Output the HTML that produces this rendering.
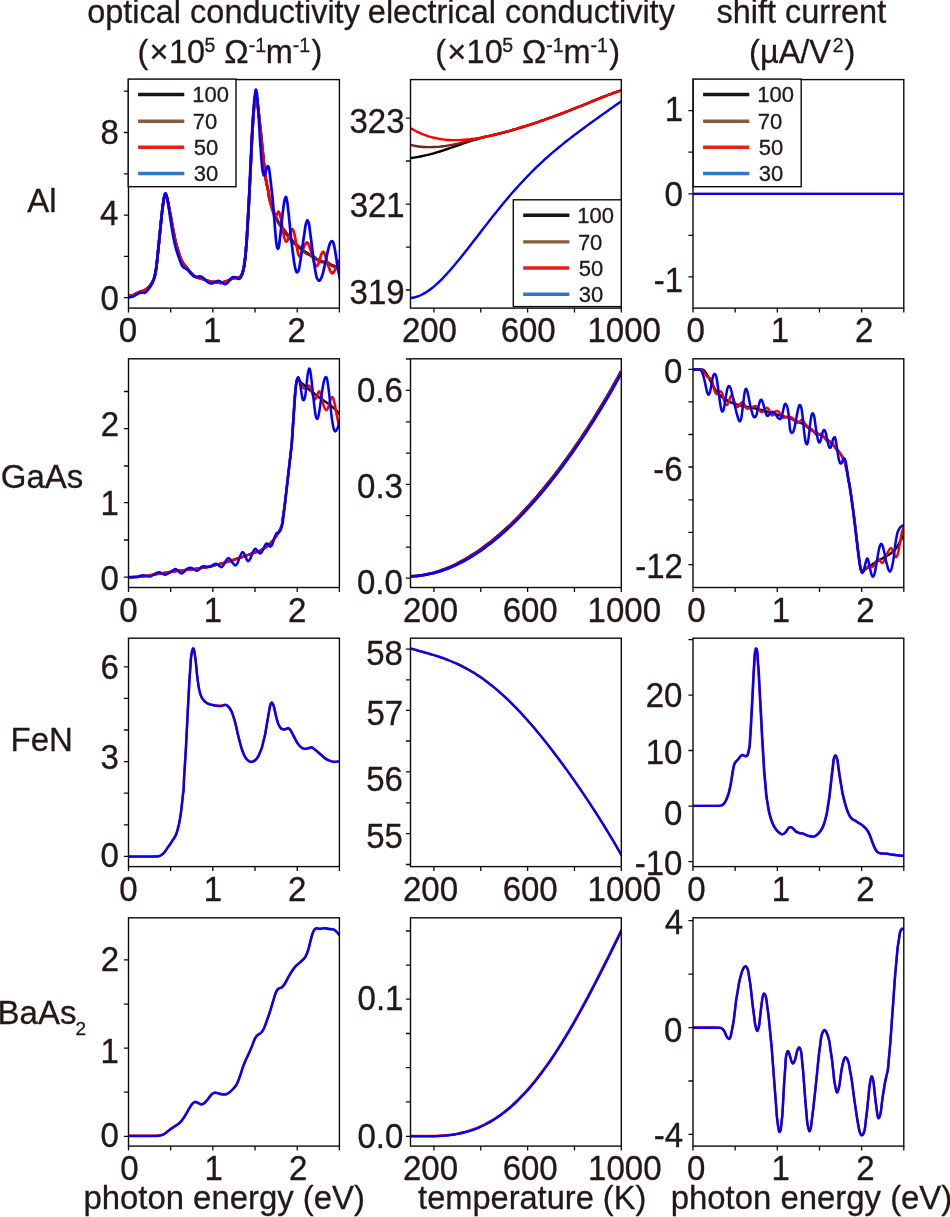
<!DOCTYPE html>
<html><head><meta charset="utf-8"><title>conductivity figure</title>
<style>html,body{margin:0;padding:0;background:#fff}body{width:950px;height:1217px;overflow:hidden}svg{display:block}text{font-family:"Liberation Sans",sans-serif;font-size:32.5px;fill:#231815;stroke:#231815;stroke-width:0.3px}</style>
</head><body>
<svg width="950" height="1217" viewBox="0 0 950 1217">
<rect width="950" height="1217" fill="#fff"/>
<clipPath id="c11"><rect x="128.5" y="79.6" width="210.9" height="228.5"/></clipPath>
<g clip-path="url(#c11)" fill="none" stroke-width="2.7" stroke-linejoin="round" stroke-linecap="butt">
<path d="M128.59 295.85C129.26 295.79 130.9 296.06 132.63 295.47C134.36 294.88 136.84 293.26 138.95 292.31C141.05 291.36 143.37 290.94 145.26 289.79C147.16 288.63 148.84 287.26 150.31 285.36C151.79 283.47 153.16 281.05 154.1 278.42C155.05 275.79 155.47 272.73 156 269.58C156.52 266.42 156.84 263.26 157.26 259.47C157.68 255.68 158.18 250.31 158.52 246.84C158.87 243.37 159.07 241.37 159.35 238.63C159.62 235.89 159.9 233.05 160.17 230.42C160.43 227.79 160.67 225.37 160.92 222.84C161.18 220.31 161.3 218.53 161.68 215.26C162.06 212 162.74 206.42 163.2 203.26C163.66 200.1 164.04 197.68 164.46 196.32C164.88 194.95 165.3 194.84 165.72 195.05C166.15 195.26 166.5 195.89 166.99 197.58C167.47 199.26 168.04 202.21 168.63 205.16C169.22 208.1 170 212.42 170.52 215.26C171.05 218.1 171.37 219.89 171.79 222.21C172.21 224.52 172.42 225.89 173.05 229.16C173.68 232.42 174.73 238.21 175.58 241.79C176.42 245.37 177.26 247.89 178.1 250.63C178.94 253.37 179.79 256.1 180.63 258.21C181.47 260.31 182.31 261.89 183.16 263.26C184 264.63 184.84 265.37 185.68 266.42C186.52 267.47 187.16 268.31 188.21 269.58C189.26 270.84 190.73 272.73 192 274C193.26 275.26 194.31 276.42 195.79 277.15C197.26 277.89 199.15 277.89 200.84 278.42C202.52 278.94 204.21 279.79 205.89 280.31C207.58 280.84 209.26 281.26 210.94 281.58C212.63 281.89 214.31 282 216 282.21C217.68 282.42 218.92 283.15 221.05 282.84C223.18 282.52 226.87 281.05 228.79 280.31C230.71 279.58 231.32 278.84 232.58 278.42C233.84 278 235.15 278 236.37 277.79C237.59 277.58 238.96 277.79 239.9 277.15C240.85 276.52 241.38 275.68 242.05 274C242.73 272.31 243.38 270.1 243.95 267.05C244.51 264 245.1 258.84 245.46 255.68C245.82 252.52 245.88 250.63 246.09 248.1C246.3 245.58 246.54 243.26 246.73 240.52C246.91 237.79 247.06 234.63 247.23 231.68C247.4 228.74 247.57 225.79 247.74 222.84C247.9 219.89 248.07 216.95 248.24 214C248.41 211.05 248.6 207.84 248.75 205.16C248.89 202.47 249 200.31 249.13 197.88C249.25 195.45 249.38 193.03 249.5 190.6C249.63 188.18 249.76 185.75 249.88 183.33C250.01 180.9 250.13 178.84 250.26 176.05C250.4 173.26 250.56 169.73 250.7 166.58C250.85 163.42 251.02 159.87 251.15 157.1C251.28 154.33 251.37 152.33 251.48 149.94C251.6 147.56 251.71 145.17 251.82 142.79C251.93 140.4 252.01 138.4 252.16 135.63C252.31 132.86 252.54 129.31 252.73 126.16C252.91 123 253.09 119.52 253.29 116.68C253.49 113.84 253.71 111.63 253.93 109.1C254.14 106.58 254.3 103.63 254.56 101.53C254.81 99.42 255.17 97.42 255.44 96.47C255.71 95.53 255.93 95.42 256.2 95.84C256.47 96.26 256.77 97 257.08 99C257.4 101 257.76 104.89 258.09 107.84C258.43 110.79 258.78 113.74 259.1 116.68C259.43 119.63 259.74 122.58 260.05 125.52C260.37 128.47 260.68 131.31 261 134.37C261.31 137.42 261.63 140.68 261.95 143.84C262.26 147 262.58 150.15 262.89 153.31C263.21 156.47 263.52 159.63 263.84 162.79C264.16 165.94 264.31 168.79 264.79 172.26C265.26 175.73 266.05 180.26 266.68 183.63C267.31 187 268.16 190.14 268.58 192.47C269 194.79 268.47 194.62 269.21 197.58C269.95 200.54 271.52 206.21 273 210.21C274.47 214.21 276.37 218.42 278.05 221.58C279.73 224.74 281.42 226.74 283.1 229.16C284.79 231.58 286.47 234 288.16 236.1C289.84 238.21 291.52 240 293.21 241.79C294.89 243.58 296.58 245.37 298.26 246.84C299.94 248.31 301.63 249.47 303.31 250.63C305 251.79 306.68 252.63 308.36 253.79C310.05 254.94 311.73 256.52 313.42 257.58C315.1 258.63 316.79 259.37 318.47 260.1C320.15 260.84 321.84 261.37 323.52 262C325.21 262.63 326.89 263.26 328.57 263.89C330.26 264.52 331.84 264.94 333.63 265.79C335.42 266.63 338.15 268.31 339.31 268.94C340.47 269.58 340.36 269.47 340.57 269.58" stroke="#000000"/>
<path d="M128.59 295.85C129.26 295.79 130.9 296.06 132.63 295.47C134.36 294.88 136.84 293.26 138.95 292.31C141.05 291.36 143.37 290.94 145.26 289.79C147.16 288.63 148.84 287.26 150.31 285.36C151.79 283.47 153.16 281.05 154.1 278.42C155.05 275.79 155.47 272.73 156 269.58C156.52 266.42 156.84 263.26 157.26 259.47C157.68 255.68 158.18 250.31 158.52 246.84C158.87 243.37 159.07 241.37 159.35 238.63C159.62 235.89 159.9 233.05 160.17 230.42C160.43 227.79 160.67 225.37 160.92 222.84C161.18 220.31 161.3 218.53 161.68 215.26C162.06 212 162.74 206.42 163.2 203.26C163.66 200.1 164.04 197.68 164.46 196.32C164.88 194.95 165.3 194.84 165.72 195.05C166.15 195.26 166.5 195.89 166.99 197.58C167.47 199.26 168.04 202.21 168.63 205.16C169.22 208.1 170 212.42 170.52 215.26C171.05 218.1 171.37 219.89 171.79 222.21C172.21 224.52 172.42 225.89 173.05 229.16C173.68 232.42 174.73 238.21 175.58 241.79C176.42 245.37 177.26 247.89 178.1 250.63C178.94 253.37 179.79 256.1 180.63 258.21C181.47 260.31 182.31 261.89 183.16 263.26C184 264.63 184.84 265.37 185.68 266.42C186.52 267.47 187.16 268.31 188.21 269.58C189.26 270.84 190.73 272.73 192 274C193.26 275.26 194.31 276.42 195.79 277.15C197.26 277.89 199.15 277.89 200.84 278.42C202.52 278.94 204.21 279.79 205.89 280.31C207.58 280.84 209.26 281.26 210.94 281.58C212.63 281.89 214.31 282 216 282.21C217.68 282.42 218.92 283.15 221.05 282.84C223.18 282.52 226.87 281.05 228.79 280.31C230.71 279.58 231.32 278.84 232.58 278.42C233.84 278 235.15 278 236.37 277.79C237.59 277.58 238.96 277.79 239.9 277.15C240.85 276.52 241.38 275.68 242.05 274C242.73 272.31 243.38 270.1 243.95 267.05C244.51 264 245.1 258.84 245.46 255.68C245.82 252.52 245.88 250.63 246.09 248.1C246.3 245.58 246.54 243.26 246.73 240.52C246.91 237.79 247.06 234.63 247.23 231.68C247.4 228.74 247.57 225.79 247.74 222.84C247.9 219.89 248.07 216.95 248.24 214C248.41 211.05 248.6 207.84 248.75 205.16C248.89 202.47 249 200.31 249.13 197.88C249.25 195.45 249.38 193.03 249.5 190.6C249.63 188.18 249.76 185.75 249.88 183.33C250.01 180.9 250.13 178.84 250.26 176.05C250.4 173.26 250.56 169.73 250.7 166.58C250.85 163.42 251.02 159.87 251.15 157.1C251.28 154.33 251.37 152.33 251.48 149.94C251.6 147.56 251.71 145.17 251.82 142.79C251.93 140.4 252.01 138.4 252.16 135.63C252.31 132.86 252.54 129.31 252.73 126.16C252.91 123 253.09 119.52 253.29 116.68C253.49 113.84 253.71 111.63 253.93 109.1C254.14 106.58 254.3 103.63 254.56 101.53C254.81 99.42 255.17 97.42 255.44 96.47C255.71 95.53 255.93 95.42 256.2 95.84C256.47 96.26 256.77 97 257.08 99C257.4 101 257.76 104.89 258.09 107.84C258.43 110.79 258.78 113.74 259.1 116.68C259.43 119.63 259.74 122.58 260.05 125.52C260.37 128.47 260.68 131.31 261 134.37C261.31 137.42 261.63 140.68 261.95 143.84C262.26 147 262.58 150.15 262.89 153.31C263.21 156.47 263.52 159.63 263.84 162.79C264.16 165.94 264.31 168.79 264.79 172.26C265.26 175.73 266.05 180.26 266.68 183.63C267.31 187 268.16 190.14 268.58 192.47C269 194.79 268.79 195.67 269.21 197.58C269.63 199.48 270.47 201.81 271.1 203.89C271.73 205.98 272.4 208.44 273 210.11C273.59 211.79 274.12 212.62 274.68 213.95C275.24 215.28 275.8 216.71 276.37 218.1C276.93 219.5 277.49 221.18 278.05 222.32C278.61 223.46 279.17 224.16 279.73 224.93C280.3 225.69 280.86 226.26 281.42 226.89C281.98 227.51 282.54 228.08 283.1 228.68C283.66 229.29 284.23 229.82 284.79 230.52C285.35 231.22 285.91 232.01 286.47 232.88C287.03 233.75 287.59 234.82 288.16 235.73C288.72 236.65 289.28 237.52 289.84 238.37C290.4 239.21 290.96 240.07 291.52 240.8C292.08 241.53 292.65 242.21 293.21 242.74C293.77 243.26 294.33 243.59 294.89 243.95C295.45 244.31 296.01 244.56 296.58 244.9C297.14 245.24 297.7 245.62 298.26 245.99C298.82 246.36 299.38 246.66 299.94 247.12C300.51 247.59 301.07 248.18 301.63 248.79C302.19 249.4 302.75 250.16 303.31 250.77C303.87 251.38 304.44 251.97 305 252.46C305.56 252.96 306.12 253.4 306.68 253.73C307.24 254.06 307.8 254.24 308.36 254.46C308.93 254.67 309.49 254.84 310.05 255.03C310.61 255.22 311.17 255.35 311.73 255.61C312.29 255.87 312.86 256.23 313.42 256.58C313.98 256.92 314.54 257.23 315.1 257.67C315.66 258.1 316.22 258.66 316.79 259.16C317.35 259.67 317.91 260.29 318.47 260.72C319.03 261.14 319.59 261.48 320.15 261.72C320.72 261.97 321.28 262.11 321.84 262.19C322.4 262.27 322.96 262.22 323.52 262.21C324.08 262.2 324.64 262.1 325.21 262.11C325.77 262.13 326.33 262.15 326.89 262.3C327.45 262.45 328.01 262.69 328.57 263.01C329.14 263.32 329.7 263.77 330.26 264.2C330.82 264.62 331.38 265.16 331.94 265.57C332.5 265.97 333.03 266.32 333.63 266.64C334.22 266.95 334.89 267.22 335.52 267.45C336.15 267.68 336.78 267.78 337.42 268.01C338.05 268.24 338.78 268.57 339.31 268.83C339.84 269.09 340.36 269.45 340.57 269.58" stroke="#7a2222"/>
<path d="M128.59 295.85C129.26 295.79 130.9 296.06 132.63 295.47C134.36 294.88 136.84 293.26 138.95 292.31C141.05 291.36 143.37 290.94 145.26 289.79C147.16 288.63 148.84 287.26 150.31 285.36C151.79 283.47 153.16 281.05 154.1 278.42C155.05 275.79 155.47 272.73 156 269.58C156.52 266.42 156.84 263.26 157.26 259.47C157.68 255.68 158.18 250.31 158.52 246.84C158.87 243.37 159.07 241.37 159.35 238.63C159.62 235.89 159.9 233.05 160.17 230.42C160.43 227.79 160.67 225.37 160.92 222.84C161.18 220.31 161.3 218.53 161.68 215.26C162.06 212 162.74 206.42 163.2 203.26C163.66 200.1 164.04 197.68 164.46 196.32C164.88 194.95 165.3 194.84 165.72 195.05C166.15 195.26 166.5 195.89 166.99 197.58C167.47 199.26 168.04 202.21 168.63 205.16C169.22 208.1 170 212.42 170.52 215.26C171.05 218.1 171.37 219.89 171.79 222.21C172.21 224.52 172.42 225.89 173.05 229.16C173.68 232.42 174.73 238.21 175.58 241.79C176.42 245.37 177.26 247.89 178.1 250.63C178.94 253.37 179.79 256.1 180.63 258.21C181.47 260.31 182.31 261.89 183.16 263.26C184 264.63 184.84 265.37 185.68 266.42C186.52 267.47 187.16 268.31 188.21 269.58C189.26 270.84 190.73 272.73 192 274C193.26 275.26 194.31 276.42 195.79 277.15C197.26 277.89 199.15 277.89 200.84 278.42C202.52 278.94 204.21 279.79 205.89 280.31C207.58 280.84 209.26 281.26 210.94 281.58C212.63 281.89 214.31 282 216 282.21C217.68 282.42 218.92 283.15 221.05 282.84C223.18 282.52 226.87 281.05 228.79 280.31C230.71 279.58 231.32 278.84 232.58 278.42C233.84 278 235.15 278 236.37 277.79C237.59 277.58 238.96 277.79 239.9 277.15C240.85 276.52 241.38 275.68 242.05 274C242.73 272.31 243.38 270.1 243.95 267.05C244.51 264 245.1 258.84 245.46 255.68C245.82 252.52 245.88 250.63 246.09 248.1C246.3 245.58 246.54 243.26 246.73 240.52C246.91 237.79 247.06 234.63 247.23 231.68C247.4 228.74 247.57 225.79 247.74 222.84C247.9 219.89 248.07 216.95 248.24 214C248.41 211.05 248.6 207.84 248.75 205.16C248.89 202.47 249 200.31 249.13 197.88C249.25 195.45 249.38 193.03 249.5 190.6C249.63 188.18 249.76 185.75 249.88 183.33C250.01 180.9 250.13 178.84 250.26 176.05C250.4 173.26 250.56 169.73 250.7 166.58C250.85 163.42 251.02 159.87 251.15 157.1C251.28 154.33 251.37 152.33 251.48 149.94C251.6 147.56 251.71 145.17 251.82 142.79C251.93 140.4 252.01 138.4 252.16 135.63C252.31 132.86 252.54 129.31 252.73 126.16C252.91 123 253.09 119.52 253.29 116.68C253.49 113.84 253.71 111.63 253.93 109.1C254.14 106.58 254.3 103.63 254.56 101.53C254.81 99.42 255.17 97.42 255.44 96.47C255.71 95.53 255.93 95.42 256.2 95.84C256.47 96.26 256.77 97 257.08 99C257.4 101 257.76 104.89 258.09 107.84C258.43 110.79 258.78 113.74 259.1 116.68C259.43 119.63 259.74 122.58 260.05 125.52C260.37 128.47 260.68 131.31 261 134.37C261.31 137.42 261.63 140.68 261.95 143.84C262.26 147 262.58 150.15 262.89 153.31C263.21 156.47 263.52 159.63 263.84 162.79C264.16 165.94 264.31 168.79 264.79 172.26C265.26 175.73 266.05 180.26 266.68 183.63C267.31 187 268.16 190.14 268.58 192.47C269 194.79 268.58 194.62 269.21 197.58C269.84 200.54 271.42 207.05 272.37 210.21C273.31 213.37 274.16 215.79 274.89 216.53C275.63 217.26 276.16 215.43 276.79 214.63C277.42 213.83 278.05 211.3 278.68 211.73C279.31 212.15 279.95 214.46 280.58 217.16C281.21 219.85 281.84 224.42 282.47 227.89C283.1 231.37 283.73 235.68 284.37 238C285 240.31 285.63 241.58 286.26 241.79C286.89 242 287.46 240.84 288.16 239.26C288.85 237.68 289.69 234 290.43 232.31C291.17 230.63 291.9 228.84 292.58 229.16C293.25 229.47 293.84 231.68 294.47 234.21C295.1 236.73 295.78 241.16 296.37 244.31C296.95 247.47 297.48 251.16 298.01 253.16C298.53 255.16 298.95 256.21 299.52 256.31C300.09 256.42 300.68 255.37 301.42 253.79C302.15 252.21 303 248.73 303.94 246.84C304.89 244.95 306.15 242.42 307.1 242.42C308.05 242.42 308.79 244.63 309.63 246.84C310.47 249.05 311.31 252.84 312.15 255.68C313 258.52 313.94 262.1 314.68 263.89C315.42 265.68 315.84 266.73 316.58 266.42C317.31 266.1 318.32 264 319.1 262C319.88 260 320.55 256.1 321.25 254.42C321.94 252.73 322.57 251.68 323.27 251.89C323.96 252.1 324.64 253.58 325.42 255.68C326.2 257.79 327.1 261.89 327.94 264.52C328.79 267.15 329.73 270 330.47 271.47C331.21 272.94 331.63 273.58 332.36 273.36C333.1 273.15 334.05 271.68 334.89 270.21C335.73 268.73 336.68 266.1 337.42 264.52C338.15 262.94 338.78 261.68 339.31 260.73C339.84 259.79 340.36 259.15 340.57 258.84" stroke="#ff0000"/>
<path d="M128.59 297.36C129.26 297.26 131.33 297.2 132.63 296.73C133.94 296.27 135.26 295.22 136.42 294.59C137.58 293.95 138.53 293.28 139.58 292.94C140.63 292.61 141.79 292.63 142.74 292.56C143.68 292.5 144.31 293.13 145.26 292.56C146.21 292 147.37 290.46 148.42 289.15C149.47 287.85 150.63 286.52 151.58 284.73C152.52 282.94 153.37 280.94 154.1 278.42C154.84 275.89 155.47 272.73 156 269.58C156.52 266.42 156.84 263.26 157.26 259.47C157.68 255.68 158.18 250.31 158.52 246.84C158.87 243.37 159.07 241.37 159.35 238.63C159.62 235.89 159.9 233.05 160.17 230.42C160.43 227.79 160.67 225.37 160.92 222.84C161.18 220.31 161.3 218.63 161.68 215.26C162.06 211.89 162.74 206 163.2 202.63C163.66 199.26 164.08 196.63 164.46 195.05C164.84 193.47 165.13 193.16 165.47 193.16C165.81 193.16 166.06 193.47 166.48 195.05C166.9 196.63 167.43 199.26 168 202.63C168.57 206 169.26 211.05 169.89 215.26C170.52 219.47 171.09 223.68 171.79 227.89C172.48 232.1 173.32 236.95 174.06 240.52C174.8 244.1 175.43 246.63 176.21 249.37C176.99 252.1 177.89 254.52 178.73 256.94C179.58 259.37 180.52 262.21 181.26 263.89C182 265.58 182.42 266.27 183.16 267.05C183.89 267.83 184.84 268.04 185.68 268.57C186.52 269.09 187.37 269.41 188.21 270.21C189.05 271.01 189.89 272.42 190.73 273.36C191.58 274.31 192.42 275.3 193.26 275.89C194.1 276.48 194.94 276.8 195.79 276.9C196.63 277.01 197.47 276.59 198.31 276.52C199.15 276.46 200 276.25 200.84 276.52C201.68 276.8 202.31 277.32 203.36 278.16C204.42 279.01 205.89 280.69 207.15 281.58C208.42 282.46 209.89 283.26 210.94 283.47C212 283.68 212.52 283.22 213.47 282.84C214.42 282.46 215.57 281.47 216.63 281.2C217.68 280.92 218.73 280.86 219.79 281.2C220.84 281.53 222.07 282.73 222.94 283.22C223.81 283.7 224.24 284.16 225 284.1C225.76 284.04 226.68 283.58 227.53 282.84C228.37 282.1 229.21 280.63 230.05 279.68C230.89 278.73 231.74 277.53 232.58 277.15C233.42 276.78 234.26 277.15 235.1 277.41C235.95 277.66 236.83 278.5 237.63 278.67C238.43 278.84 239.17 279.09 239.9 278.42C240.64 277.74 241.38 276.52 242.05 274.63C242.73 272.73 243.38 270.21 243.95 267.05C244.51 263.89 245.1 258.84 245.46 255.68C245.82 252.52 245.88 250.63 246.09 248.1C246.3 245.58 246.54 243.26 246.73 240.52C246.91 237.79 247.06 234.63 247.23 231.68C247.4 228.74 247.57 225.79 247.74 222.84C247.9 219.89 248.07 216.95 248.24 214C248.41 211.05 248.61 207.84 248.75 205.16C248.88 202.47 248.96 200.31 249.06 197.88C249.17 195.45 249.27 193.03 249.38 190.6C249.48 188.18 249.59 185.75 249.69 183.33C249.8 180.9 249.88 178.84 250.01 176.05C250.14 173.26 250.3 169.73 250.45 166.58C250.6 163.42 250.76 159.87 250.89 157.1C251.02 154.33 251.12 152.33 251.23 149.94C251.34 147.56 251.46 145.17 251.57 142.79C251.68 140.4 251.75 138.4 251.9 135.63C252.06 132.86 252.28 129.31 252.47 126.16C252.66 123 252.84 119.63 253.04 116.68C253.24 113.74 253.46 111.21 253.67 108.47C253.88 105.74 254.03 103 254.3 100.26C254.58 97.53 255.04 93.84 255.31 92.05C255.59 90.26 255.69 89.42 255.95 89.53C256.2 89.63 256.51 90.26 256.83 92.68C257.15 95.1 257.59 100.89 257.84 104.05C258.09 107.21 258.18 109.1 258.35 111.63C258.51 114.16 258.7 116.75 258.85 119.21C259.01 121.66 259.13 123.98 259.27 126.37C259.41 128.75 259.55 131.14 259.69 133.52C259.83 135.91 259.94 138.01 260.11 140.68C260.29 143.35 260.54 146.58 260.75 149.52C260.96 152.47 261.06 154.79 261.38 158.36C261.69 161.94 262.22 168.15 262.64 171C263.06 173.84 263.48 175 263.9 175.42C264.32 175.84 264.75 174.68 265.17 173.52C265.59 172.36 266.01 169.69 266.43 168.47C266.85 167.25 267.27 166.2 267.69 166.2C268.11 166.2 268.54 166.62 268.96 168.47C269.38 170.32 269.8 173.94 270.22 177.31C270.64 180.68 271.06 184.88 271.48 188.68C271.9 192.48 272.43 196.94 272.75 200.1C273.06 203.27 273.17 205.16 273.38 207.68C273.59 210.21 273.8 212.63 274.01 215.26C274.22 217.89 274.43 220.74 274.64 223.47C274.85 226.21 274.96 228.21 275.27 231.68C275.59 235.16 276.11 241.47 276.53 244.31C276.96 247.16 277.38 248.52 277.8 248.73C278.22 248.94 278.6 248.21 279.06 245.58C279.52 242.95 280.17 236.52 280.58 232.95C280.99 229.37 281.21 227.05 281.52 224.1C281.84 221.16 282.04 218.84 282.47 215.26C282.9 211.68 283.59 205.68 284.11 202.63C284.64 199.58 285.12 197.16 285.63 196.95C286.13 196.74 286.62 198.32 287.14 201.37C287.67 204.42 288.36 211.37 288.79 215.26C289.22 219.16 289.42 221.58 289.73 224.74C290.05 227.89 290.37 231.26 290.68 234.21C291 237.16 291.31 239.68 291.63 242.42C291.94 245.16 292.26 248.1 292.58 250.63C292.89 253.16 293.21 255.26 293.52 257.58C293.84 259.89 294.06 262.31 294.47 264.52C294.88 266.73 295.52 269.53 295.99 270.84C296.45 272.14 296.77 272.56 297.25 272.35C297.73 272.14 298.3 271.93 298.89 269.58C299.48 267.22 300.26 261.58 300.79 258.21C301.31 254.84 301.63 252.31 302.05 249.37C302.47 246.42 302.91 243.26 303.31 240.52C303.71 237.79 304.07 235.47 304.45 232.95C304.83 230.42 305.1 227.47 305.59 225.37C306.07 223.26 306.79 220.53 307.35 220.31C307.92 220.1 308.56 222.31 309 224.1C309.43 225.89 309.63 228.74 309.94 231.05C310.26 233.37 310.58 235.58 310.89 238C311.21 240.42 311.52 243.05 311.84 245.58C312.15 248.1 312.47 250.73 312.79 253.16C313.1 255.58 313.42 257.79 313.73 260.1C314.05 262.42 314.21 264.21 314.68 267.05C315.15 269.89 315.94 274.94 316.58 277.15C317.21 279.36 317.84 279.89 318.47 280.31C319.1 280.73 319.63 280.84 320.36 279.68C321.1 278.52 322.05 276.31 322.89 273.36C323.73 270.42 324.57 265.79 325.42 262C326.26 258.21 327.21 253.68 327.94 250.63C328.68 247.58 329.21 245.26 329.84 243.68C330.47 242.1 331.1 241.16 331.73 241.16C332.36 241.16 333 241.68 333.63 243.68C334.26 245.68 334.89 249.47 335.52 253.16C336.15 256.84 336.78 262 337.42 265.79C338.05 269.58 338.78 273.15 339.31 275.89C339.84 278.63 340.36 281.15 340.57 282.21" stroke="#0000ff"/>
</g>
<g stroke="#0c0a0a" stroke-width="1.3" fill="none">
<path d="M123.9 297.7H128.5M123.9 215.1H128.5M123.9 132.5H128.5M123.9 256.4H128.5M123.9 173.8H128.5M123.9 91.2H128.5M128.5 308.1V312.5M212.86 308.1V312.5M297.22 308.1V312.5M170.68 308.1V312.5M255.04 308.1V312.5M339.4 308.1V312.5"/>
<rect x="128.5" y="79.6" width="210.9" height="228.5" stroke-width="1.4"/>
</g>
<rect x="128.2" y="79.1" width="107.8" height="107.6" fill="#fff" stroke="#0c0a0a" stroke-width="1.4"/>
<path d="M138.1 94.5H184.3" stroke="#1a1311" stroke-width="3.4" fill="none"/>
<text transform="translate(192.23 102.3) scale(1 1.04)" style="font-size:22px">100</text>
<path d="M138.1 121.2H184.3" stroke="#8a5a3a" stroke-width="3.4" fill="none"/>
<text transform="translate(192.78 129) scale(1 1.04)" style="font-size:22px">70</text>
<path d="M138.1 147.3H184.3" stroke="#e0221a" stroke-width="3.4" fill="none"/>
<text transform="translate(193.72 155.1) scale(1 1.04)" style="font-size:22px">50</text>
<path d="M138.1 173.5H184.3" stroke="#2f76c3" stroke-width="3.4" fill="none"/>
<text transform="translate(193.76 181.3) scale(1 1.04)" style="font-size:22px">30</text>
<clipPath id="c12"><rect x="410.5" y="79.6" width="210.8" height="228.5"/></clipPath>
<g clip-path="url(#c12)" fill="none" stroke-width="2.4" stroke-linejoin="round" stroke-linecap="butt">
<path d="M409.5 158.01C410.01 157.97 411.52 157.83 412.54 157.72C413.55 157.61 414.56 157.47 415.57 157.33C416.58 157.18 417.6 157.02 418.61 156.85C419.62 156.67 420.63 156.48 421.64 156.28C422.65 156.08 423.67 155.86 424.68 155.64C425.69 155.41 426.7 155.17 427.71 154.92C428.73 154.67 429.74 154.41 430.75 154.14C431.76 153.87 432.77 153.59 433.79 153.3C434.8 153.01 435.81 152.72 436.82 152.41C437.83 152.11 438.85 151.79 439.86 151.48C440.87 151.16 441.88 150.83 442.89 150.5C443.9 150.17 444.92 149.84 445.93 149.5C446.94 149.16 447.95 148.82 448.96 148.47C449.98 148.12 450.99 147.77 452 147.42C453.01 147.07 454.02 146.72 455.04 146.37C456.05 146.01 457.06 145.66 458.07 145.31C459.08 144.95 460.1 144.6 461.11 144.25C462.12 143.9 463.13 143.55 464.14 143.2C465.15 142.85 466.17 142.51 467.18 142.17C468.19 141.83 469.2 141.49 470.21 141.16C471.23 140.83 472.24 140.51 473.25 140.19C474.26 139.87 475.27 139.55 476.29 139.25C477.3 138.95 478.31 138.65 479.32 138.36C480.33 138.08 481.35 137.8 482.36 137.53C483.37 137.27 484.38 137.01 485.39 136.78C486.4 136.54 487.42 136.34 488.43 136.12C489.44 135.9 490.45 135.68 491.46 135.45C492.48 135.23 493.49 134.99 494.5 134.75C495.51 134.52 496.52 134.27 497.54 134.02C498.55 133.77 499.56 133.52 500.57 133.26C501.58 133 502.6 132.74 503.61 132.47C504.62 132.2 505.63 131.93 506.64 131.65C507.65 131.38 508.67 131.1 509.68 130.81C510.69 130.53 511.7 130.24 512.71 129.95C513.73 129.66 514.74 129.37 515.75 129.07C516.76 128.77 517.77 128.47 518.79 128.16C519.8 127.86 520.81 127.55 521.82 127.24C522.83 126.93 523.85 126.62 524.86 126.3C525.87 125.98 526.88 125.66 527.89 125.34C528.9 125.02 529.92 124.69 530.93 124.36C531.94 124.03 532.95 123.7 533.96 123.37C534.98 123.03 535.99 122.7 537 122.36C538.01 122.02 539.02 121.67 540.04 121.33C541.05 120.98 542.06 120.64 543.07 120.28C544.08 119.93 545.1 119.58 546.11 119.22C547.12 118.87 548.13 118.51 549.14 118.14C550.15 117.78 551.17 117.42 552.18 117.05C553.19 116.68 554.2 116.31 555.21 115.94C556.23 115.57 557.24 115.19 558.25 114.81C559.26 114.43 560.27 114.05 561.29 113.67C562.3 113.28 563.31 112.9 564.32 112.51C565.33 112.12 566.35 111.73 567.36 111.34C568.37 110.94 569.38 110.55 570.39 110.15C571.4 109.75 572.42 109.35 573.43 108.95C574.44 108.54 575.45 108.14 576.46 107.73C577.48 107.33 578.49 106.92 579.5 106.51C580.51 106.1 581.52 105.69 582.54 105.28C583.55 104.86 584.56 104.45 585.57 104.04C586.58 103.62 587.6 103.21 588.61 102.8C589.62 102.38 590.63 101.97 591.64 101.55C592.65 101.14 593.67 100.73 594.68 100.32C595.69 99.91 596.7 99.49 597.71 99.09C598.73 98.68 599.74 98.27 600.75 97.87C601.76 97.47 602.77 97.07 603.79 96.67C604.8 96.28 605.81 95.88 606.82 95.5C607.83 95.11 608.85 94.73 609.86 94.36C610.87 93.99 611.88 93.62 612.89 93.26C613.9 92.9 614.92 92.55 615.93 92.21C616.94 91.87 617.95 91.53 618.96 91.21C619.98 90.9 621.49 90.45 622 90.29" stroke="#000000"/>
<path d="M409.5 144.71C410.01 144.83 411.52 145.21 412.54 145.43C413.55 145.65 414.56 145.84 415.57 146.01C416.58 146.19 417.6 146.34 418.61 146.47C419.62 146.61 420.63 146.72 421.64 146.81C422.65 146.9 423.67 146.98 424.68 147.03C425.69 147.09 426.7 147.12 427.71 147.14C428.73 147.16 429.74 147.17 430.75 147.15C431.76 147.14 432.77 147.11 433.79 147.07C434.8 147.02 435.81 146.96 436.82 146.89C437.83 146.82 438.85 146.73 439.86 146.63C440.87 146.53 441.88 146.41 442.89 146.29C443.9 146.16 444.92 146.03 445.93 145.88C446.94 145.73 447.95 145.57 448.96 145.4C449.98 145.24 450.99 145.06 452 144.87C453.01 144.68 454.02 144.49 455.04 144.29C456.05 144.08 457.06 143.87 458.07 143.65C459.08 143.44 460.1 143.21 461.11 142.98C462.12 142.75 463.13 142.52 464.14 142.28C465.15 142.04 466.17 141.79 467.18 141.54C468.19 141.3 469.2 141.04 470.21 140.79C471.23 140.54 472.24 140.28 473.25 140.02C474.26 139.76 475.27 139.5 476.29 139.24C477.3 138.98 478.31 138.72 479.32 138.46C480.33 138.19 481.35 137.93 482.36 137.67C483.37 137.42 484.38 137.16 485.39 136.91C486.4 136.65 487.42 136.4 488.43 136.16C489.44 135.92 490.45 135.69 491.46 135.45C492.48 135.22 493.49 134.99 494.5 134.75C495.51 134.52 496.52 134.27 497.54 134.02C498.55 133.77 499.56 133.52 500.57 133.26C501.58 133 502.6 132.74 503.61 132.47C504.62 132.2 505.63 131.93 506.64 131.65C507.65 131.38 508.67 131.1 509.68 130.81C510.69 130.53 511.7 130.24 512.71 129.95C513.73 129.66 514.74 129.37 515.75 129.07C516.76 128.77 517.77 128.47 518.79 128.16C519.8 127.86 520.81 127.55 521.82 127.24C522.83 126.93 523.85 126.62 524.86 126.3C525.87 125.98 526.88 125.66 527.89 125.34C528.9 125.02 529.92 124.69 530.93 124.36C531.94 124.03 532.95 123.7 533.96 123.37C534.98 123.03 535.99 122.7 537 122.36C538.01 122.02 539.02 121.67 540.04 121.33C541.05 120.98 542.06 120.64 543.07 120.28C544.08 119.93 545.1 119.58 546.11 119.22C547.12 118.87 548.13 118.51 549.14 118.14C550.15 117.78 551.17 117.42 552.18 117.05C553.19 116.68 554.2 116.31 555.21 115.94C556.23 115.57 557.24 115.19 558.25 114.81C559.26 114.43 560.27 114.05 561.29 113.67C562.3 113.28 563.31 112.9 564.32 112.51C565.33 112.12 566.35 111.73 567.36 111.34C568.37 110.94 569.38 110.55 570.39 110.15C571.4 109.75 572.42 109.35 573.43 108.95C574.44 108.54 575.45 108.14 576.46 107.73C577.48 107.33 578.49 106.92 579.5 106.51C580.51 106.1 581.52 105.69 582.54 105.28C583.55 104.86 584.56 104.45 585.57 104.04C586.58 103.62 587.6 103.21 588.61 102.8C589.62 102.38 590.63 101.97 591.64 101.55C592.65 101.14 593.67 100.73 594.68 100.32C595.69 99.91 596.7 99.49 597.71 99.09C598.73 98.68 599.74 98.27 600.75 97.87C601.76 97.47 602.77 97.07 603.79 96.67C604.8 96.28 605.81 95.88 606.82 95.5C607.83 95.11 608.85 94.73 609.86 94.36C610.87 93.99 611.88 93.62 612.89 93.26C613.9 92.9 614.92 92.55 615.93 92.21C616.94 91.87 617.95 91.53 618.96 91.21C619.98 90.9 621.49 90.45 622 90.29" stroke="#7a2222"/>
<path d="M409.5 127.47C410.01 127.77 411.52 128.71 412.54 129.29C413.55 129.87 414.56 130.42 415.57 130.95C416.58 131.48 417.6 131.97 418.61 132.45C419.62 132.92 420.63 133.37 421.64 133.79C422.65 134.22 423.67 134.62 424.68 134.99C425.69 135.37 426.7 135.72 427.71 136.05C428.73 136.38 429.74 136.68 430.75 136.97C431.76 137.25 432.77 137.52 433.79 137.76C434.8 138 435.81 138.22 436.82 138.43C437.83 138.63 438.85 138.81 439.86 138.97C440.87 139.14 441.88 139.28 442.89 139.41C443.9 139.54 444.92 139.65 445.93 139.74C446.94 139.83 447.95 139.91 448.96 139.97C449.98 140.03 450.99 140.07 452 140.1C453.01 140.13 454.02 140.14 455.04 140.14C456.05 140.14 457.06 140.13 458.07 140.1C459.08 140.08 460.1 140.04 461.11 139.98C462.12 139.93 463.13 139.87 464.14 139.79C465.15 139.71 466.17 139.63 467.18 139.53C468.19 139.43 469.2 139.32 470.21 139.2C471.23 139.08 472.24 138.95 473.25 138.81C474.26 138.67 475.27 138.53 476.29 138.37C477.3 138.21 478.31 138.05 479.32 137.88C480.33 137.7 481.35 137.52 482.36 137.33C483.37 137.15 484.38 136.95 485.39 136.75C486.4 136.54 487.42 136.34 488.43 136.12C489.44 135.9 490.45 135.68 491.46 135.45C492.48 135.23 493.49 134.99 494.5 134.75C495.51 134.52 496.52 134.27 497.54 134.02C498.55 133.77 499.56 133.52 500.57 133.26C501.58 133 502.6 132.74 503.61 132.47C504.62 132.2 505.63 131.93 506.64 131.65C507.65 131.38 508.67 131.1 509.68 130.81C510.69 130.53 511.7 130.24 512.71 129.95C513.73 129.66 514.74 129.37 515.75 129.07C516.76 128.77 517.77 128.47 518.79 128.16C519.8 127.86 520.81 127.55 521.82 127.24C522.83 126.93 523.85 126.62 524.86 126.3C525.87 125.98 526.88 125.66 527.89 125.34C528.9 125.02 529.92 124.69 530.93 124.36C531.94 124.03 532.95 123.7 533.96 123.37C534.98 123.03 535.99 122.7 537 122.36C538.01 122.02 539.02 121.67 540.04 121.33C541.05 120.98 542.06 120.64 543.07 120.28C544.08 119.93 545.1 119.58 546.11 119.22C547.12 118.87 548.13 118.51 549.14 118.14C550.15 117.78 551.17 117.42 552.18 117.05C553.19 116.68 554.2 116.31 555.21 115.94C556.23 115.57 557.24 115.19 558.25 114.81C559.26 114.43 560.27 114.05 561.29 113.67C562.3 113.28 563.31 112.9 564.32 112.51C565.33 112.12 566.35 111.73 567.36 111.34C568.37 110.94 569.38 110.55 570.39 110.15C571.4 109.75 572.42 109.35 573.43 108.95C574.44 108.54 575.45 108.14 576.46 107.73C577.48 107.33 578.49 106.92 579.5 106.51C580.51 106.1 581.52 105.69 582.54 105.28C583.55 104.86 584.56 104.45 585.57 104.04C586.58 103.62 587.6 103.21 588.61 102.8C589.62 102.38 590.63 101.97 591.64 101.55C592.65 101.14 593.67 100.73 594.68 100.32C595.69 99.91 596.7 99.49 597.71 99.09C598.73 98.68 599.74 98.27 600.75 97.87C601.76 97.47 602.77 97.07 603.79 96.67C604.8 96.28 605.81 95.88 606.82 95.5C607.83 95.11 608.85 94.73 609.86 94.36C610.87 93.99 611.88 93.62 612.89 93.26C613.9 92.9 614.92 92.55 615.93 92.21C616.94 91.87 617.95 91.53 618.96 91.21C619.98 90.9 621.49 90.45 622 90.29" stroke="#ff0000"/>
<path d="M409.5 298.02C410.01 297.97 411.52 297.91 412.54 297.75C413.55 297.6 414.56 297.38 415.57 297.11C416.58 296.83 417.6 296.49 418.61 296.1C419.62 295.71 420.63 295.27 421.64 294.77C422.65 294.27 423.67 293.72 424.68 293.13C425.69 292.53 426.7 291.88 427.71 291.2C428.73 290.51 429.74 289.78 430.75 289.01C431.76 288.24 432.77 287.42 433.79 286.58C434.8 285.73 435.81 284.84 436.82 283.93C437.83 283.01 438.85 282.06 439.86 281.08C440.87 280.1 441.88 279.08 442.89 278.05C443.9 277.01 444.92 275.94 445.93 274.86C446.94 273.77 447.95 272.65 448.96 271.52C449.98 270.39 450.99 269.23 452 268.06C453.01 266.89 454.02 265.7 455.04 264.49C456.05 263.29 457.06 262.06 458.07 260.83C459.08 259.6 460.1 258.35 461.11 257.09C462.12 255.83 463.13 254.56 464.14 253.28C465.15 252.01 466.17 250.72 467.18 249.43C468.19 248.14 469.2 246.84 470.21 245.53C471.23 244.23 472.24 242.92 473.25 241.61C474.26 240.3 475.27 238.99 476.29 237.68C477.3 236.36 478.31 235.05 479.32 233.73C480.33 232.42 481.35 231.11 482.36 229.8C483.37 228.49 484.38 227.18 485.39 225.88C486.4 224.57 487.42 223.27 488.43 221.98C489.44 220.68 490.45 219.39 491.46 218.11C492.48 216.82 493.49 215.54 494.5 214.27C495.51 213 496.52 211.74 497.54 210.48C498.55 209.22 499.56 207.98 500.57 206.74C501.58 205.5 502.6 204.27 503.61 203.05C504.62 201.83 505.63 200.62 506.64 199.41C507.65 198.21 508.67 197.02 509.68 195.84C510.69 194.66 511.7 193.49 512.71 192.33C513.73 191.18 514.74 190.03 515.75 188.89C516.76 187.76 517.77 186.63 518.79 185.52C519.8 184.41 520.81 183.3 521.82 182.21C522.83 181.12 523.85 180.05 524.86 178.98C525.87 177.91 526.88 176.86 527.89 175.81C528.9 174.77 529.92 173.74 530.93 172.72C531.94 171.7 532.95 170.69 533.96 169.7C534.98 168.7 535.99 167.71 537 166.74C538.01 165.77 539.02 164.8 540.04 163.85C541.05 162.9 542.06 161.96 543.07 161.03C544.08 160.09 545.1 159.17 546.11 158.26C547.12 157.35 548.13 156.45 549.14 155.56C550.15 154.67 551.17 153.79 552.18 152.92C553.19 152.05 554.2 151.19 555.21 150.33C556.23 149.48 557.24 148.63 558.25 147.79C559.26 146.96 560.27 146.13 561.29 145.31C562.3 144.48 563.31 143.67 564.32 142.86C565.33 142.05 566.35 141.25 567.36 140.46C568.37 139.66 569.38 138.88 570.39 138.09C571.4 137.31 572.42 136.54 573.43 135.76C574.44 134.99 575.45 134.23 576.46 133.46C577.48 132.7 578.49 131.94 579.5 131.19C580.51 130.44 581.52 129.69 582.54 128.94C583.55 128.19 584.56 127.45 585.57 126.71C586.58 125.97 587.6 125.23 588.61 124.5C589.62 123.76 590.63 123.03 591.64 122.3C592.65 121.57 593.67 120.84 594.68 120.12C595.69 119.39 596.7 118.66 597.71 117.94C598.73 117.22 599.74 116.49 600.75 115.77C601.76 115.05 602.77 114.33 603.79 113.61C604.8 112.89 605.81 112.17 606.82 111.46C607.83 110.74 608.85 110.02 609.86 109.31C610.87 108.59 611.88 107.88 612.89 107.16C613.9 106.45 614.92 105.74 615.93 105.03C616.94 104.32 617.95 103.61 618.96 102.9C619.98 102.2 621.49 101.14 622 100.79" stroke="#0000ff"/>
</g>
<g stroke="#0c0a0a" stroke-width="1.3" fill="none">
<path d="M405.9 118.1H410.5M405.9 204.1H410.5M405.9 290H410.5M405.9 161H410.5M405.9 247.1H410.5M433.92 308.1V312.5M527.61 308.1V312.5M621.3 308.1V312.5M480.77 308.1V312.5M574.46 308.1V312.5"/>
<rect x="410.5" y="79.6" width="210.8" height="228.5" stroke-width="1.4"/>
</g>
<rect x="513.3" y="199.8" width="108" height="106.8" fill="#fff" stroke="#0c0a0a" stroke-width="1.4"/>
<path d="M523.2 215.2H569.4" stroke="#1a1311" stroke-width="3.4" fill="none"/>
<text transform="translate(577.33 223) scale(1 1.04)" style="font-size:22px">100</text>
<path d="M523.2 241.9H569.4" stroke="#8a5a3a" stroke-width="3.4" fill="none"/>
<text transform="translate(577.88 249.7) scale(1 1.04)" style="font-size:22px">70</text>
<path d="M523.2 268H569.4" stroke="#e0221a" stroke-width="3.4" fill="none"/>
<text transform="translate(578.82 275.8) scale(1 1.04)" style="font-size:22px">50</text>
<path d="M523.2 294.2H569.4" stroke="#2f76c3" stroke-width="3.4" fill="none"/>
<text transform="translate(578.86 302) scale(1 1.04)" style="font-size:22px">30</text>
<clipPath id="c13"><rect x="693" y="79.6" width="210.8" height="228.5"/></clipPath>
<g clip-path="url(#c13)" fill="none" stroke-width="2.3" stroke-linejoin="round" stroke-linecap="butt">
<path d="M693 193.8L904 193.8" stroke="#ff0000"/>
<path d="M693 193.8L904 193.8" stroke="#0000ff"/>
</g>
<g stroke="#0c0a0a" stroke-width="1.3" fill="none">
<path d="M688.4 110.6H693M688.4 193.8H693M688.4 276.9H693M688.4 152.2H693M688.4 235.3H693M693 308.1V312.5M777.32 308.1V312.5M861.64 308.1V312.5M735.16 308.1V312.5M819.48 308.1V312.5M903.8 308.1V312.5"/>
<rect x="693" y="79.6" width="210.8" height="228.5" stroke-width="1.4"/>
</g>
<rect x="693.2" y="79.1" width="108" height="107.6" fill="#fff" stroke="#0c0a0a" stroke-width="1.4"/>
<path d="M703.1 94.5H749.3" stroke="#1a1311" stroke-width="3.4" fill="none"/>
<text transform="translate(757.23 102.3) scale(1 1.04)" style="font-size:22px">100</text>
<path d="M703.1 121.2H749.3" stroke="#8a5a3a" stroke-width="3.4" fill="none"/>
<text transform="translate(757.78 129) scale(1 1.04)" style="font-size:22px">70</text>
<path d="M703.1 147.3H749.3" stroke="#e0221a" stroke-width="3.4" fill="none"/>
<text transform="translate(758.72 155.1) scale(1 1.04)" style="font-size:22px">50</text>
<path d="M703.1 173.5H749.3" stroke="#2f76c3" stroke-width="3.4" fill="none"/>
<text transform="translate(758.76 181.3) scale(1 1.04)" style="font-size:22px">30</text>
<clipPath id="c21"><rect x="128.5" y="358.8" width="210.9" height="228.7"/></clipPath>
<g clip-path="url(#c21)" fill="none" stroke-width="2.5" stroke-linejoin="round" stroke-linecap="butt">
<path d="M128.71 577.28C130.89 577.17 138.25 576.96 141.84 576.61C145.44 576.26 147.46 575.66 150.26 575.18C153.07 574.7 155.88 574.2 158.68 573.75C161.49 573.3 164.3 572.91 167.11 572.48C169.91 572.06 172.72 571.6 175.53 571.22C178.33 570.84 181.14 570.55 183.95 570.21C186.75 569.87 189.56 569.58 192.37 569.2C195.18 568.82 197.98 568.36 200.79 567.94C203.6 567.52 206.4 567.25 209.21 566.67C212.02 566.1 214.82 565.21 217.63 564.48C220.44 563.75 223.25 563.12 226.05 562.29C228.86 561.47 231.67 560.44 234.47 559.52C237.28 558.59 240.09 557.69 242.89 556.74C245.7 555.78 248.51 554.77 251.32 553.79C254.12 552.81 256.93 552.23 259.74 550.84C262.54 549.45 265.35 547.98 268.16 545.45C270.96 542.93 274.33 538.94 276.58 535.68C278.82 532.43 280.6 528.78 281.63 525.92C282.66 523.05 282.38 520.98 282.75 518.51C283.13 516.04 283.5 513.56 283.88 511.09C284.25 508.62 284.67 506.15 285 503.68C285.33 501.22 285.55 498.75 285.83 496.28C286.11 493.82 286.38 491.35 286.66 488.88C286.93 486.41 287.21 483.95 287.49 481.48C287.76 479.01 288.04 476.55 288.32 474.08C288.59 471.61 288.87 469.14 289.14 466.68C289.42 464.21 289.7 461.74 289.97 459.28C290.25 456.81 290.53 454.34 290.8 451.88C291.08 449.41 291.41 447.02 291.63 444.47C291.86 441.92 291.98 439.21 292.16 436.58C292.33 433.95 292.51 431.32 292.68 428.68C292.86 426.05 293.04 423.42 293.21 420.79C293.39 418.16 293.56 415.53 293.74 412.89C293.91 410.26 294.09 407.63 294.26 405C294.44 402.37 294.53 400.26 294.79 397.11C295.05 393.95 295.49 388.86 295.84 386.05C296.19 383.25 296.47 381.44 296.89 380.26C297.32 379.09 297.89 378.82 298.37 379C298.84 379.18 298.81 380.32 299.74 381.32C300.67 382.32 302.54 383.77 303.95 385C305.35 386.23 306.58 387.37 308.16 388.68C309.74 390 311.67 391.49 313.42 392.89C315.18 394.3 316.93 395.79 318.68 397.11C320.44 398.42 322.19 399.56 323.95 400.79C325.7 402.02 327.46 403.16 329.21 404.47C330.96 405.79 332.77 407.11 334.47 408.68C336.18 410.26 338.37 412.72 339.42 413.95C340.47 415.18 340.56 415.7 340.79 416.05" stroke="#000000"/>
<path d="M128.71 577.28C130.89 577.17 138.25 576.96 141.84 576.61C145.44 576.26 147.46 575.66 150.26 575.18C153.07 574.7 155.88 574.2 158.68 573.75C161.49 573.3 164.3 572.91 167.11 572.48C169.91 572.06 172.72 571.6 175.53 571.22C178.33 570.84 181.14 570.55 183.95 570.21C186.75 569.87 189.56 569.58 192.37 569.2C195.18 568.82 197.98 568.36 200.79 567.94C203.6 567.52 206.4 567.25 209.21 566.67C212.02 566.1 214.82 565.21 217.63 564.48C220.44 563.75 223.25 563.12 226.05 562.29C228.86 561.47 231.67 560.44 234.47 559.52C237.28 558.59 240.09 557.69 242.89 556.74C245.7 555.78 248.51 554.77 251.32 553.79C254.12 552.81 256.93 552.23 259.74 550.84C262.54 549.45 265.35 547.98 268.16 545.45C270.96 542.93 274.33 538.94 276.58 535.68C278.82 532.43 280.6 528.78 281.63 525.92C282.66 523.05 282.38 520.98 282.75 518.51C283.13 516.04 283.5 513.56 283.88 511.09C284.25 508.62 284.67 506.15 285 503.68C285.33 501.22 285.55 498.75 285.83 496.28C286.11 493.82 286.38 491.35 286.66 488.88C286.93 486.41 287.21 483.95 287.49 481.48C287.76 479.01 288.04 476.55 288.32 474.08C288.59 471.61 288.87 469.14 289.14 466.68C289.42 464.21 289.7 461.74 289.97 459.28C290.25 456.81 290.53 454.34 290.8 451.88C291.08 449.41 291.41 447.02 291.63 444.47C291.86 441.92 291.98 439.21 292.16 436.58C292.33 433.95 292.51 431.32 292.68 428.68C292.86 426.05 293.04 423.42 293.21 420.79C293.39 418.16 293.56 415.53 293.74 412.89C293.91 410.26 294.09 407.63 294.26 405C294.44 402.37 294.53 400.26 294.79 397.11C295.05 393.95 295.49 388.86 295.84 386.05C296.19 383.25 296.47 381.44 296.89 380.26C297.32 379.09 297.72 378.47 298.37 379C299.02 379.53 300.04 381.98 300.79 383.42C301.54 384.86 302.19 386.79 302.89 387.63C303.6 388.47 304.3 388.68 305 388.47C305.7 388.26 306.49 386.86 307.11 386.37C307.72 385.88 308.16 385.4 308.68 385.53C309.21 385.65 309.74 386.05 310.26 387.11C310.79 388.16 311.32 390.18 311.84 391.84C312.37 393.51 312.89 395.79 313.42 397.11C313.95 398.42 314.47 399.74 315 399.74C315.53 399.74 316.09 398.16 316.58 397.11C317.07 396.05 317.51 394.39 317.95 393.42C318.39 392.46 318.77 391.32 319.21 391.32C319.65 391.32 320.11 392.11 320.58 393.42C321.05 394.74 321.54 397.19 322.05 399.21C322.56 401.23 323.11 403.86 323.63 405.53C324.16 407.19 324.72 408.42 325.21 409.21C325.7 410 326.09 410.53 326.58 410.26C327.07 410 327.63 408.95 328.16 407.63C328.68 406.32 329.25 403.95 329.74 402.37C330.23 400.79 330.67 399.04 331.11 398.16C331.54 397.28 331.95 396.93 332.37 397.11C332.79 397.28 333.16 397.63 333.63 399.21C334.11 400.79 334.68 403.86 335.21 406.58C335.74 409.3 336.25 412.72 336.79 415.53C337.33 418.33 337.98 421.23 338.47 423.42C338.96 425.61 339.53 427.81 339.74 428.68" stroke="#ff0000"/>
<path d="M128.71 576.95C130.05 576.95 134.88 577.14 136.79 576.95C138.7 576.75 139.04 576.05 140.16 575.77C141.28 575.49 142.4 575.21 143.53 575.26C144.65 575.32 145.77 575.91 146.89 576.11C148.02 576.3 149.14 576.67 150.26 576.44C151.39 576.22 152.51 575.38 153.63 574.76C154.75 574.14 156.02 573.16 157 572.74C157.98 572.32 158.68 572.09 159.53 572.23C160.37 572.37 161.13 573.16 162.05 573.58C162.98 574 164.1 574.76 165.08 574.76C166.07 574.76 166.91 574.11 167.95 573.58C168.99 573.05 170.33 572.2 171.32 571.56C172.3 570.91 173.14 570.13 173.84 569.71C174.54 569.28 174.91 568.95 175.53 569.03C176.14 569.12 176.85 569.65 177.55 570.21C178.25 570.77 179.04 571.84 179.74 572.4C180.44 572.96 181.06 573.66 181.76 573.58C182.46 573.49 183.16 572.6 183.95 571.89C184.73 571.19 185.63 570.01 186.47 569.37C187.32 568.72 188.16 568.25 189 568.02C189.84 567.8 190.68 567.8 191.53 568.02C192.37 568.25 193.13 568.92 194.05 569.37C194.98 569.82 196.1 570.86 197.08 570.72C198.07 570.58 199.05 569.23 199.95 568.53C200.85 567.82 201.63 566.87 202.47 566.51C203.32 566.14 204.16 566.28 205 566.34C205.84 566.39 206.54 566.84 207.53 566.84C208.51 566.84 209.91 566.7 210.89 566.34C211.88 565.97 212.58 565.07 213.42 564.65C214.26 564.23 215.11 563.73 215.95 563.81C216.79 563.89 217.58 564.6 218.47 565.16C219.37 565.72 220.49 567.18 221.34 567.18C222.18 567.18 222.8 566.2 223.53 565.16C224.26 564.12 224.96 562.13 225.72 560.95C226.47 559.77 227.32 558.36 228.07 558.08C228.83 557.8 229.48 558.42 230.26 559.26C231.05 560.11 231.95 562.1 232.79 563.14C233.63 564.18 234.53 565.49 235.32 565.49C236.1 565.49 236.75 564.6 237.51 563.14C238.26 561.68 239.05 558.56 239.86 556.74C240.68 554.91 241.6 552.61 242.39 552.19C243.18 551.77 243.88 553.03 244.58 554.21C245.28 555.39 245.98 558.08 246.6 559.26C247.22 560.44 247.64 561.42 248.28 561.28C248.93 561.14 249.74 559.88 250.47 558.42C251.2 556.96 251.91 554.13 252.66 552.53C253.42 550.93 254.26 549.16 255.02 548.82C255.78 548.48 256.42 549.75 257.21 550.51C258 551.26 258.98 553.09 259.74 553.37C260.49 553.65 261.06 553.17 261.76 552.19C262.46 551.21 263.22 548.88 263.95 547.47C264.68 546.07 265.44 544.33 266.14 543.77C266.84 543.21 267.46 543.63 268.16 544.11C268.86 544.58 269.65 546.63 270.35 546.63C271.05 546.63 271.67 545.65 272.37 544.11C273.07 542.56 273.86 539.19 274.56 537.37C275.26 535.54 275.91 533.94 276.58 533.16C277.25 532.37 277.9 533.21 278.6 532.65C279.3 532.09 280.14 531.25 280.79 529.79C281.44 528.33 281.97 526.56 282.47 523.89C282.98 521.23 283.4 517.44 283.82 513.79C284.24 510.14 284.66 505.16 285 502C285.34 498.84 285.57 497.21 285.86 494.81C286.14 492.41 286.43 490.02 286.71 487.62C287 485.22 287.28 482.82 287.57 480.43C287.85 478.03 288.14 475.63 288.42 473.24C288.71 470.84 288.99 468.44 289.28 466.05C289.56 463.65 289.85 461.25 290.13 458.86C290.42 456.46 290.7 454.06 290.99 451.66C291.27 449.27 291.61 446.99 291.84 444.47C292.07 441.96 292.19 439.21 292.37 436.58C292.54 433.95 292.72 431.32 292.89 428.68C293.07 426.05 293.25 423.42 293.42 420.79C293.6 418.16 293.77 415.53 293.95 412.89C294.12 410.26 294.3 407.63 294.47 405C294.65 402.37 294.74 400.35 295 397.11C295.26 393.86 295.7 388.51 296.05 385.53C296.4 382.54 296.72 380.58 297.11 379.21C297.49 377.84 297.93 376.96 298.37 377.32C298.81 377.67 299.3 379.25 299.74 381.32C300.18 383.39 300.56 386.93 301 389.74C301.44 392.54 301.93 396.4 302.37 398.16C302.81 399.91 303.19 400.44 303.63 400.26C304.07 400.09 304.56 399.21 305 397.11C305.44 395 305.82 391.32 306.26 387.63C306.7 383.95 307.19 378.07 307.63 375C308.07 371.93 308.6 370.26 308.89 369.21C309.19 368.16 309.19 368.42 309.42 368.68C309.65 368.95 309.91 368.86 310.26 370.79C310.61 372.72 311.09 376.58 311.53 380.26C311.96 383.95 312.44 388.68 312.89 392.89C313.35 397.11 313.82 401.84 314.26 405.53C314.7 409.21 315.09 412.81 315.53 415C315.96 417.19 316.46 418.33 316.89 418.68C317.33 419.04 317.68 418.77 318.16 417.11C318.63 415.44 319.21 412.02 319.74 408.68C320.26 405.35 320.79 400.79 321.32 397.11C321.84 393.42 322.37 389.56 322.89 386.58C323.42 383.6 323.98 380.82 324.47 379.21C324.96 377.6 325.4 376.89 325.84 376.89C326.28 376.89 326.63 377.07 327.11 379.21C327.58 381.35 328.29 386.75 328.68 389.74C329.08 392.72 329.21 394.65 329.47 397.11C329.74 399.56 329.87 400.96 330.26 404.47C330.66 407.98 331.32 414.3 331.84 418.16C332.37 422.02 332.89 425.44 333.42 427.63C333.95 429.82 334.47 430.93 335 431.32C335.53 431.7 336.05 430.74 336.58 429.95C337.11 429.16 337.68 427.84 338.16 426.58C338.63 425.32 338.98 423.95 339.42 422.37C339.86 420.79 340.56 417.98 340.79 417.11" stroke="#0000ff"/>
</g>
<g stroke="#0c0a0a" stroke-width="1.3" fill="none">
<path d="M123.9 428.6H128.5M123.9 502.6H128.5M123.9 577.2H128.5M123.9 391.5H128.5M123.9 466H128.5M123.9 540H128.5M128.5 587.5V591.9M212.86 587.5V591.9M297.22 587.5V591.9M170.68 587.5V591.9M255.04 587.5V591.9M339.4 587.5V591.9"/>
<rect x="128.5" y="358.8" width="210.9" height="228.7" stroke-width="1.4"/>
</g>
<clipPath id="c22"><rect x="410.5" y="358.8" width="210.8" height="228.7"/></clipPath>
<g clip-path="url(#c22)" fill="none" stroke-width="2.7" stroke-linejoin="round" stroke-linecap="butt">
<path d="M409.51 576.36C410.01 576.34 411.5 576.28 412.5 576.22C413.49 576.15 414.49 576.08 415.49 575.98C416.48 575.89 417.48 575.78 418.48 575.66C419.47 575.54 420.47 575.4 421.47 575.25C422.46 575.1 423.46 574.93 424.46 574.75C425.46 574.57 426.45 574.38 427.45 574.16C428.45 573.95 429.44 573.73 430.44 573.49C431.44 573.25 432.43 572.99 433.43 572.72C434.43 572.45 435.42 572.16 436.42 571.86C437.42 571.56 438.41 571.25 439.41 570.92C440.41 570.59 441.4 570.24 442.4 569.88C443.4 569.52 444.39 569.15 445.39 568.76C446.39 568.37 447.38 567.96 448.38 567.54C449.38 567.12 450.37 566.69 451.37 566.24C452.37 565.79 453.36 565.33 454.36 564.85C455.36 564.37 456.35 563.88 457.35 563.37C458.35 562.86 459.34 562.34 460.34 561.8C461.34 561.27 462.33 560.72 463.33 560.15C464.33 559.58 465.32 559 466.32 558.41C467.32 557.82 468.31 557.2 469.31 556.59C470.32 555.98 471.34 555.36 472.35 554.73C473.36 554.09 474.37 553.44 475.39 552.78C476.4 552.11 477.41 551.44 478.42 550.74C479.43 550.05 480.45 549.35 481.46 548.63C482.47 547.91 483.48 547.18 484.49 546.43C485.5 545.69 486.52 544.93 487.53 544.15C488.54 543.38 489.55 542.6 490.56 541.8C491.58 541 492.59 540.18 493.6 539.36C494.61 538.53 495.62 537.69 496.64 536.84C497.65 535.99 498.66 535.12 499.67 534.24C500.68 533.37 501.7 532.48 502.71 531.57C503.72 530.67 504.73 529.75 505.74 528.82C506.75 527.89 507.77 526.95 508.78 526C509.79 525.04 510.8 524.08 511.81 523.1C512.83 522.12 513.84 521.13 514.85 520.13C515.86 519.12 516.87 518.11 517.89 517.08C518.9 516.05 519.91 515.01 520.92 513.96C521.93 512.91 522.95 511.84 523.96 510.77C524.97 509.69 525.98 508.6 526.99 507.5C528 506.4 529.02 505.29 530.03 504.17C531.04 503.05 532.05 501.91 533.06 500.76C534.08 499.62 535.09 498.46 536.1 497.29C537.11 496.12 538.12 494.94 539.14 493.74C540.15 492.55 541.16 491.35 542.17 490.13C543.18 488.92 544.2 487.69 545.21 486.45C546.22 485.21 547.23 483.96 548.24 482.7C549.25 481.44 550.27 480.16 551.28 478.88C552.29 477.6 553.3 476.3 554.31 474.99C555.33 473.69 556.34 472.37 557.35 471.04C558.36 469.71 559.37 468.37 560.39 467.01C561.4 465.66 562.41 464.3 563.42 462.92C564.43 461.55 565.45 460.16 566.46 458.76C567.47 457.36 568.48 455.95 569.49 454.53C570.5 453.11 571.52 451.68 572.53 450.23C573.54 448.79 574.55 447.33 575.56 445.87C576.58 444.4 577.59 442.92 578.6 441.43C579.61 439.94 580.62 438.43 581.64 436.92C582.65 435.4 583.66 433.87 584.67 432.33C585.68 430.79 586.7 429.24 587.71 427.68C588.72 426.11 589.73 424.54 590.74 422.95C591.75 421.36 592.77 419.76 593.78 418.14C594.79 416.53 595.8 414.9 596.81 413.26C597.83 411.62 598.84 409.97 599.85 408.3C600.86 406.64 601.87 404.96 602.89 403.26C603.9 401.57 604.91 399.86 605.92 398.14C606.93 396.42 607.95 394.69 608.96 392.94C609.97 391.19 610.98 389.42 611.99 387.65C613 385.87 614.02 384.07 615.03 382.27C616.04 380.46 617.05 378.64 618.06 376.8C619.08 374.96 620.59 372.16 621.1 371.24" stroke="#000000"/>
<path d="M409.5 576.36C410.01 576.34 411.51 576.29 412.51 576.23C413.52 576.17 414.52 576.1 415.52 576.02C416.52 575.93 417.53 575.83 418.53 575.71C419.53 575.6 420.53 575.47 421.54 575.32C422.54 575.17 423.54 575.01 424.54 574.84C425.55 574.66 426.55 574.47 427.55 574.27C428.55 574.06 429.56 573.84 430.56 573.61C431.56 573.37 432.57 573.12 433.57 572.86C434.57 572.59 435.57 572.31 436.58 572.02C437.58 571.72 438.58 571.41 439.58 571.09C440.59 570.77 441.59 570.43 442.59 570.07C443.59 569.72 444.6 569.35 445.6 568.97C446.6 568.58 447.6 568.18 448.61 567.77C449.61 567.36 450.61 566.93 451.62 566.48C452.62 566.04 453.62 565.58 454.62 565.11C455.63 564.64 456.63 564.15 457.63 563.65C458.63 563.15 459.64 562.63 460.64 562.1C461.64 561.57 462.64 561.03 463.65 560.47C464.65 559.91 465.65 559.33 466.65 558.74C467.66 558.16 468.66 557.55 469.66 556.94C470.67 556.33 471.69 555.71 472.7 555.08C473.71 554.44 474.72 553.79 475.74 553.13C476.75 552.46 477.76 551.79 478.77 551.09C479.78 550.4 480.8 549.7 481.81 548.98C482.82 548.26 483.83 547.53 484.84 546.78C485.85 546.04 486.87 545.28 487.88 544.5C488.89 543.73 489.9 542.95 490.91 542.15C491.93 541.35 492.94 540.53 493.95 539.71C494.96 538.88 495.97 538.04 496.99 537.19C498 536.34 499.01 535.47 500.02 534.59C501.03 533.72 502.05 532.83 503.06 531.92C504.07 531.02 505.08 530.1 506.09 529.17C507.1 528.24 508.12 527.3 509.13 526.35C510.14 525.39 511.15 524.43 512.16 523.45C513.18 522.47 514.19 521.48 515.2 520.48C516.21 519.47 517.22 518.46 518.24 517.43C519.25 516.4 520.26 515.36 521.27 514.31C522.28 513.26 523.3 512.19 524.31 511.12C525.32 510.04 526.33 508.95 527.34 507.85C528.35 506.75 529.37 505.64 530.38 504.52C531.39 503.4 532.4 502.26 533.41 501.11C534.43 499.97 535.44 498.81 536.45 497.64C537.46 496.47 538.47 495.29 539.49 494.09C540.5 492.9 541.51 491.7 542.52 490.48C543.53 489.27 544.55 488.04 545.56 486.8C546.57 485.56 547.58 484.31 548.59 483.05C549.6 481.79 550.62 480.51 551.63 479.23C552.64 477.95 553.65 476.65 554.66 475.34C555.68 474.04 556.69 472.72 557.7 471.39C558.71 470.06 559.72 468.72 560.74 467.36C561.75 466.01 562.76 464.65 563.77 463.27C564.78 461.9 565.8 460.51 566.81 459.11C567.82 457.71 568.83 456.3 569.84 454.88C570.85 453.46 571.87 452.03 572.88 450.58C573.89 449.14 574.9 447.68 575.91 446.22C576.93 444.75 577.94 443.27 578.95 441.78C579.96 440.29 580.97 438.78 581.99 437.27C583 435.75 584.01 434.22 585.02 432.68C586.03 431.14 587.05 429.59 588.06 428.03C589.07 426.46 590.08 424.89 591.09 423.3C592.1 421.71 593.12 420.11 594.13 418.49C595.14 416.88 596.15 415.25 597.16 413.61C598.18 411.97 599.19 410.32 600.2 408.65C601.21 406.99 602.22 405.31 603.24 403.61C604.25 401.92 605.26 400.21 606.27 398.49C607.28 396.77 608.3 395.04 609.31 393.29C610.32 391.54 611.33 389.77 612.34 388C613.35 386.22 614.37 384.42 615.38 382.62C616.39 380.81 617.4 378.99 618.41 377.15C619.43 375.31 620.94 372.51 621.45 371.59" stroke="#ff0000"/>
<path d="M409.5 576.36C410.01 576.34 411.52 576.3 412.54 576.26C413.55 576.21 414.56 576.14 415.57 576.07C416.58 575.99 417.6 575.9 418.61 575.79C419.62 575.68 420.63 575.56 421.64 575.43C422.65 575.29 423.67 575.14 424.68 574.97C425.69 574.81 426.7 574.63 427.71 574.43C428.73 574.23 429.74 574.02 430.75 573.8C431.76 573.57 432.77 573.33 433.79 573.08C434.8 572.82 435.81 572.55 436.82 572.26C437.83 571.98 438.85 571.68 439.86 571.36C440.87 571.05 441.88 570.72 442.89 570.37C443.9 570.03 444.92 569.67 445.93 569.29C446.94 568.92 447.95 568.53 448.96 568.13C449.98 567.72 450.99 567.3 452 566.87C453.01 566.44 454.02 565.99 455.04 565.52C456.05 565.06 457.06 564.58 458.07 564.09C459.08 563.6 460.1 563.09 461.11 562.57C462.12 562.05 463.13 561.51 464.14 560.96C465.15 560.41 466.17 559.85 467.18 559.27C468.19 558.69 469.2 558.1 470.21 557.49C471.23 556.88 472.24 556.26 473.25 555.63C474.26 554.99 475.27 554.34 476.29 553.68C477.3 553.01 478.31 552.34 479.32 551.64C480.33 550.95 481.35 550.25 482.36 549.53C483.37 548.81 484.38 548.08 485.39 547.33C486.4 546.59 487.42 545.83 488.43 545.05C489.44 544.28 490.45 543.5 491.46 542.7C492.48 541.9 493.49 541.08 494.5 540.26C495.51 539.43 496.52 538.59 497.54 537.74C498.55 536.89 499.56 536.02 500.57 535.14C501.58 534.27 502.6 533.38 503.61 532.47C504.62 531.57 505.63 530.65 506.64 529.72C507.65 528.79 508.67 527.85 509.68 526.9C510.69 525.94 511.7 524.98 512.71 524C513.73 523.02 514.74 522.03 515.75 521.03C516.76 520.02 517.77 519.01 518.79 517.98C519.8 516.95 520.81 515.91 521.82 514.86C522.83 513.81 523.85 512.74 524.86 511.67C525.87 510.59 526.88 509.5 527.89 508.4C528.9 507.3 529.92 506.19 530.93 505.07C531.94 503.95 532.95 502.81 533.96 501.66C534.98 500.52 535.99 499.36 537 498.19C538.01 497.02 539.02 495.84 540.04 494.64C541.05 493.45 542.06 492.25 543.07 491.03C544.08 489.82 545.1 488.59 546.11 487.35C547.12 486.11 548.13 484.86 549.14 483.6C550.15 482.34 551.17 481.06 552.18 479.78C553.19 478.5 554.2 477.2 555.21 475.89C556.23 474.59 557.24 473.27 558.25 471.94C559.26 470.61 560.27 469.27 561.29 467.91C562.3 466.56 563.31 465.2 564.32 463.82C565.33 462.45 566.35 461.06 567.36 459.66C568.37 458.26 569.38 456.85 570.39 455.43C571.4 454.01 572.42 452.58 573.43 451.13C574.44 449.69 575.45 448.23 576.46 446.77C577.48 445.3 578.49 443.82 579.5 442.33C580.51 440.84 581.52 439.33 582.54 437.82C583.55 436.3 584.56 434.77 585.57 433.23C586.58 431.69 587.6 430.14 588.61 428.58C589.62 427.01 590.63 425.44 591.64 423.85C592.65 422.26 593.67 420.66 594.68 419.04C595.69 417.43 596.7 415.8 597.71 414.16C598.73 412.52 599.74 410.87 600.75 409.2C601.76 407.54 602.77 405.86 603.79 404.16C604.8 402.47 605.81 400.76 606.82 399.04C607.83 397.32 608.85 395.59 609.86 393.84C610.87 392.09 611.88 390.32 612.89 388.55C613.9 386.77 614.92 384.97 615.93 383.17C616.94 381.36 617.95 379.54 618.96 377.7C619.98 375.86 621.49 373.06 622 372.14" stroke="#0000ff"/>
</g>
<g stroke="#0c0a0a" stroke-width="1.3" fill="none">
<path d="M405.9 390.3H410.5M405.9 484.4H410.5M405.9 578.2H410.5M405.9 359H410.5M405.9 421.8H410.5M405.9 453.1H410.5M405.9 515.6H410.5M405.9 547.2H410.5M433.92 587.5V591.9M527.61 587.5V591.9M621.3 587.5V591.9M480.77 587.5V591.9M574.46 587.5V591.9"/>
<rect x="410.5" y="358.8" width="210.8" height="228.7" stroke-width="1.4"/>
</g>
<clipPath id="c23"><rect x="693" y="358.8" width="210.8" height="228.7"/></clipPath>
<g clip-path="url(#c23)" fill="none" stroke-width="2.5" stroke-linejoin="round" stroke-linecap="butt">
<path d="M692.8 369.53C694.32 369.53 699.96 369.32 701.89 369.53C703.83 369.74 703.58 369.95 704.42 370.79C705.26 371.63 706.1 373.21 706.95 374.58C707.79 375.95 708.63 377.42 709.47 379C710.31 380.58 711.16 382.47 712 384.05C712.84 385.63 713.68 387.1 714.53 388.47C715.37 389.84 716 391 717.05 392.26C718.1 393.52 719.37 394.79 720.84 396.05C722.31 397.31 724.21 398.79 725.89 399.84C727.58 400.89 729.26 401.63 730.95 402.37C732.63 403.1 734.31 403.73 736 404.26C737.68 404.79 739.37 405.1 741.05 405.52C742.73 405.95 744.42 406.43 746.1 406.79C747.79 407.15 749.47 407.36 751.16 407.67C752.84 407.99 754.52 408.3 756.21 408.68C757.89 409.06 759.58 409.48 761.26 409.95C762.94 410.41 764.63 410.93 766.31 411.46C768 411.99 769.68 412.62 771.36 413.1C773.05 413.59 774.73 413.9 776.42 414.37C778.1 414.83 779.79 415.42 781.47 415.88C783.15 416.34 785.1 416.78 786.52 417.14C787.94 417.51 788.58 417.51 790 418.09C791.42 418.67 793.37 419.86 795.05 420.62C796.74 421.38 798.42 421.84 800.1 422.64C801.79 423.44 803.47 424.32 805.16 425.42C806.84 426.51 808.53 428.05 810.21 429.21C811.89 430.37 813.58 431.42 815.26 432.37C816.95 433.31 818.63 433.95 820.31 434.89C822 435.84 823.68 436.79 825.37 438.05C827.05 439.31 828.74 440.89 830.42 442.47C832.1 444.05 833.79 445.63 835.47 447.52C837.16 449.42 839.05 451.63 840.52 453.84C842 456.05 843.26 457.94 844.31 460.79C845.37 463.63 846.1 467.52 846.84 470.89C847.58 474.26 848.27 478.63 848.73 481C849.2 483.36 849.16 482.31 849.62 485.1C850.08 487.89 851.04 494.47 851.51 497.74C851.99 501 852.14 502.37 852.46 504.68C852.78 507 853.09 509.21 853.41 511.63C853.72 514.05 854.04 516.68 854.36 519.21C854.67 521.73 854.99 524.16 855.3 526.79C855.62 529.42 855.93 532.26 856.25 535C856.57 537.73 856.88 540.58 857.2 543.21C857.51 545.84 857.83 548.26 858.14 550.79C858.46 553.31 858.7 555.52 859.09 558.36C859.48 561.21 860 565.56 860.48 567.84C860.97 570.11 861.32 571.65 862 572.01C862.67 572.36 863.47 570.79 864.52 569.99C865.58 569.19 866.42 568.51 868.31 567.21C870.21 565.9 873.36 563.73 875.89 562.15C878.42 560.58 880.94 559.21 883.47 557.73C886 556.26 888.94 554.89 891.05 553.31C893.15 551.73 894.63 550.15 896.1 548.26C897.57 546.37 898.69 544.05 899.89 541.94C901.09 539.84 902.35 537.52 903.3 535.63C904.25 533.73 905.2 531.42 905.57 530.58" stroke="#000000"/>
<path d="M693 369.48C694.16 369.48 698.37 369.32 699.95 369.48C701.53 369.63 701.63 369.74 702.48 370.42C703.32 371.11 704.27 372.58 705 373.58C705.74 374.58 706.27 375.74 706.9 376.42C707.53 377.11 708.21 377.37 708.79 377.69C709.37 378 709.85 377.79 710.37 378.32C710.9 378.85 711.48 379.69 711.95 380.85C712.43 382 712.79 383.69 713.21 385.27C713.64 386.85 714.06 389.01 714.48 390.32C714.9 391.64 715.27 392.53 715.74 393.16C716.22 393.8 716.79 394.22 717.32 394.11C717.85 394.01 718.37 393.01 718.9 392.53C719.43 392.06 719.95 391.22 720.48 391.27C721.01 391.32 721.58 391.85 722.06 392.85C722.53 393.85 722.9 395.8 723.32 397.27C723.74 398.74 724.16 400.48 724.59 401.69C725.01 402.9 725.43 404.01 725.85 404.54C726.27 405.06 726.69 405.11 727.11 404.85C727.53 404.59 727.95 403.9 728.38 402.96C728.8 402.01 729.22 400.32 729.64 399.17C730.06 398.01 730.53 396.59 730.9 396.01C731.27 395.43 731.51 395.38 731.85 395.69C732.19 396.01 732.56 397.01 732.92 397.9C733.29 398.8 733.56 399.8 734.06 401.06C734.57 402.32 735.32 404.48 735.96 405.48C736.59 406.48 737.33 407.06 737.85 407.06C738.38 407.06 738.59 406.17 739.11 405.48C739.64 404.8 740.43 403.54 741.01 402.96C741.59 402.38 742.06 401.8 742.59 402.01C743.12 402.22 743.64 403.32 744.17 404.22C744.7 405.11 745.17 406.64 745.75 407.38C746.33 408.12 746.96 408.54 747.64 408.64C748.33 408.75 749.87 408.05 749.85 408.01C749.83 407.97 747.49 408.41 747.53 408.43C747.56 408.44 749.21 408.37 750.05 408.11C750.9 407.85 751.63 407.22 752.58 406.85C753.53 406.48 754.9 405.85 755.74 405.9C756.58 405.95 757 406.43 757.63 407.16C758.27 407.9 758.79 409.48 759.53 410.32C760.27 411.16 761.32 412.11 762.06 412.22C762.79 412.32 763.32 411.59 763.95 410.95C764.58 410.32 765.27 408.95 765.85 408.43C766.43 407.9 766.9 407.58 767.43 407.8C767.95 408.01 768.53 408.85 769.01 409.69C769.48 410.53 769.74 411.9 770.27 412.85C770.79 413.8 771.53 415.17 772.16 415.38C772.8 415.59 773.53 414.74 774.06 414.11C774.59 413.48 774.8 412.11 775.32 411.59C775.85 411.06 776.59 410.85 777.22 410.95C777.85 411.06 778.48 411.48 779.11 412.22C779.74 412.95 780.38 414.48 781.01 415.38C781.64 416.27 782.17 417.27 782.9 417.59C783.64 417.9 784.59 417.43 785.43 417.27C786.27 417.11 787.11 416.69 787.96 416.64C788.8 416.59 789.64 416.64 790.48 416.96C791.33 417.27 792.27 417.85 793.01 418.53C793.75 419.22 794.27 420.32 794.91 421.06C795.54 421.8 796.17 422.75 796.8 422.96C797.43 423.17 798.06 422.75 798.7 422.32C799.33 421.9 800.01 420.83 800.59 420.43C801.17 420.03 801.43 419.4 802.17 419.92C802.91 420.45 804.54 422.98 805.01 423.59C805.48 424.2 804.71 423.27 805 423.6C805.29 423.93 806.16 424.97 806.74 425.59C807.32 426.21 807.89 426.85 808.47 427.34C809.05 427.83 809.64 428.21 810.21 428.53C810.78 428.85 811.33 428.84 811.89 429.28C812.46 429.72 813.02 430.48 813.58 431.19C814.14 431.9 814.7 432.99 815.26 433.56C815.82 434.13 816.38 434.48 816.95 434.61C817.51 434.75 818.07 434.49 818.63 434.36C819.19 434.22 819.75 433.79 820.31 433.81C820.88 433.84 821.44 434.04 822 434.49C822.56 434.94 823.12 435.77 823.68 436.52C824.24 437.27 824.81 438.25 825.37 439C825.93 439.75 826.49 440.57 827.05 441.01C827.61 441.45 828.17 441.53 828.74 441.64C829.3 441.75 829.86 441.5 830.42 441.67C830.98 441.84 831.54 442.09 832.1 442.66C832.66 443.22 833.23 444.14 833.79 445.04C834.35 445.94 834.91 447.14 835.47 448.05C836.03 448.97 836.59 449.86 837.16 450.53C837.72 451.21 838.28 451.57 838.84 452.11C839.4 452.64 839.93 452.88 840.52 453.75C841.12 454.62 841.79 456.14 842.42 457.31C843.05 458.49 843.58 458.52 844.31 460.79C845.05 463.05 846.1 467.52 846.84 470.89C847.58 474.26 848.27 478.63 848.73 481C849.2 483.36 849.16 482.31 849.62 485.1C850.08 487.89 851.04 494.47 851.51 497.74C851.99 501 852.14 502.37 852.46 504.68C852.78 507 853.09 509.21 853.41 511.63C853.72 514.05 854.04 516.68 854.36 519.21C854.67 521.73 854.99 524.16 855.3 526.79C855.62 529.42 855.93 532.26 856.25 535C856.57 537.73 856.88 540.58 857.2 543.21C857.51 545.84 857.83 548.26 858.14 550.79C858.46 553.31 858.7 555.52 859.09 558.36C859.48 561.21 860 565.56 860.48 567.84C860.97 570.11 861.43 571.73 862 572.01C862.57 572.28 863.26 570.17 863.89 569.48C864.52 568.79 864.84 568.43 865.79 567.84C866.73 567.25 868.42 566.09 869.58 565.94C870.73 565.8 871.68 567.59 872.73 566.95C873.79 566.32 874.94 563.48 875.89 562.15C876.84 560.83 877.58 559.04 878.42 559C879.26 558.95 880.21 561.27 880.94 561.9C881.68 562.53 882.1 563.38 882.84 562.79C883.58 562.2 884.52 560.15 885.36 558.36C886.21 556.58 887.05 553.73 887.89 552.05C888.73 550.37 889.68 548.68 890.42 548.26C891.15 547.84 891.68 548.47 892.31 549.52C892.94 550.58 893.57 553.31 894.21 554.58C894.84 555.84 895.47 557.31 896.1 557.1C896.73 556.89 897.36 555.63 898 553.31C898.63 551 899.26 546.58 899.89 543.21C900.52 539.84 901.22 535.63 901.78 533.1C902.35 530.58 902.67 529.73 903.3 528.05C903.93 526.37 905.2 523.84 905.57 523" stroke="#ff0000"/>
<path d="M692.8 369.53C693.89 369.53 697.96 369.32 699.37 369.53C700.78 369.74 700.63 369.84 701.26 370.79C701.89 371.74 702.53 373.21 703.16 375.21C703.79 377.21 704.42 380.05 705.05 382.79C705.68 385.53 706.38 389.63 706.95 391.63C707.51 393.63 707.94 394.79 708.46 394.79C708.99 394.79 709.56 393.63 710.1 391.63C710.65 389.63 711.22 385.42 711.75 382.79C712.27 380.16 712.76 377.31 713.26 375.84C713.77 374.37 714.25 373.74 714.78 373.95C715.3 374.16 715.87 374.79 716.42 377.1C716.97 379.42 717.54 384.16 718.06 387.84C718.59 391.52 719.07 395.74 719.58 399.21C720.08 402.68 720.61 406.62 721.09 408.68C721.58 410.75 722 411.69 722.48 411.59C722.97 411.48 723.47 410.32 724 408.05C724.52 405.78 725.07 401.21 725.64 397.95C726.21 394.68 726.84 390.47 727.41 388.47C727.98 386.47 728.5 385.95 729.05 385.95C729.6 385.95 730.12 386.89 730.69 388.47C731.26 390.05 731.83 392.79 732.46 395.42C733.09 398.05 733.79 401.31 734.48 404.26C735.18 407.21 735.96 410.58 736.63 413.1C737.3 415.63 738 418.05 738.52 419.42C739.05 420.79 739.32 421.52 739.79 421.31C740.25 421.1 740.78 420.79 741.3 418.16C741.83 415.52 742.4 409.73 742.95 405.52C743.49 401.31 744.1 395.67 744.59 392.89C745.07 390.11 745.39 389.06 745.85 388.85C746.31 388.64 746.8 389.69 747.37 391.63C747.93 393.57 748.63 397.52 749.26 400.47C749.89 403.42 750.52 406.79 751.16 409.31C751.79 411.84 752.46 414.3 753.05 415.63C753.64 416.96 754.12 417.38 754.69 417.27C755.26 417.17 755.89 416.53 756.46 415C757.03 413.46 757.51 410.37 758.1 408.05C758.69 405.73 759.43 402.47 760 401.1C760.57 399.73 760.99 399.42 761.51 399.84C762.04 400.26 762.57 401.73 763.15 403.63C763.74 405.52 764.42 409.21 765.05 411.21C765.68 413.21 766.31 415 766.94 415.63C767.58 416.26 768.21 415.52 768.84 415C769.47 414.47 770.1 413 770.73 412.47C771.36 411.94 772 411.73 772.63 411.84C773.26 411.94 773.89 412.47 774.52 413.1C775.15 413.73 775.79 414.79 776.42 415.63C777.05 416.47 777.68 417.57 778.31 418.16C778.94 418.74 779.64 419.38 780.21 419.17C780.78 418.96 781.2 418.53 781.72 416.89C782.25 415.25 782.88 411.31 783.36 409.31C783.85 407.31 784.21 405.78 784.63 404.89C785.05 404.01 785.41 403.48 785.89 404.01C786.37 404.53 787.01 405.69 787.53 408.05C788.06 410.41 788.64 414.63 789.05 418.16C789.46 421.68 789.53 426.73 790 429.21C790.47 431.68 791.26 432.79 791.89 433C792.53 433.21 793.16 432.37 793.79 430.47C794.42 428.58 795.05 424.79 795.68 421.63C796.32 418.47 797.01 414.16 797.58 411.53C798.15 408.89 798.63 406.89 799.09 405.84C799.56 404.79 799.94 404.68 800.36 405.21C800.78 405.74 801.2 406.68 801.62 409C802.04 411.31 802.46 415.31 802.88 419.1C803.3 422.89 803.73 428.05 804.15 431.73C804.57 435.42 804.99 439.1 805.41 441.21C805.83 443.31 806.25 444.26 806.67 444.37C807.09 444.47 807.52 443.73 807.94 441.84C808.36 439.95 808.78 436.37 809.2 433C809.62 429.63 810.04 424.68 810.46 421.63C810.88 418.58 811.3 416.05 811.73 414.68C812.15 413.31 812.57 413.1 812.99 413.42C813.41 413.74 813.83 414.58 814.25 416.58C814.67 418.58 815.05 422.26 815.51 425.42C815.98 428.58 816.55 432.89 817.03 435.52C817.51 438.16 817.98 440.05 818.42 441.21C818.86 442.37 819.26 442.79 819.68 442.47C820.1 442.16 820.53 440.79 820.95 439.31C821.37 437.84 821.79 435.1 822.21 433.63C822.63 432.16 823.05 431.04 823.47 430.47C823.89 429.9 824.31 429.69 824.74 430.22C825.16 430.75 825.54 431.8 826 433.63C826.46 435.46 827.03 439.1 827.51 441.21C828 443.31 828.42 445.17 828.9 446.26C829.39 447.36 829.96 447.99 830.42 447.78C830.88 447.57 831.26 446.41 831.68 445C832.1 443.59 832.52 440.58 832.95 439.31C833.37 438.05 833.83 437.63 834.21 437.42C834.59 437.21 834.84 436.89 835.22 438.05C835.6 439.21 836.06 441.84 836.48 444.37C836.9 446.89 837.32 450.58 837.75 453.21C838.17 455.84 838.59 458.47 839.01 460.15C839.43 461.84 839.81 462.89 840.27 463.31C840.73 463.73 841.32 463.31 841.79 462.68C842.25 462.05 842.63 460.26 843.05 459.52C843.47 458.79 843.89 458.05 844.31 458.26C844.73 458.47 845.16 459.1 845.58 460.79C846 462.47 846.38 465.21 846.84 468.36C847.3 471.52 847.93 476.94 848.36 479.73C848.78 482.52 848.88 482.1 849.37 485.1C849.85 488.11 850.79 494.47 851.26 497.74C851.73 501 851.89 502.37 852.21 504.68C852.52 507 852.84 509.21 853.16 511.63C853.47 514.05 853.79 516.68 854.1 519.21C854.42 521.73 854.73 524.16 855.05 526.79C855.37 529.42 855.68 532.26 856 535C856.31 537.73 856.63 540.58 856.94 543.21C857.26 545.84 857.58 548.26 857.89 550.79C858.21 553.31 858.41 555.42 858.84 558.36C859.27 561.31 859.95 566.05 860.48 568.47C861.01 570.89 861.49 572.47 862 572.89C862.5 573.31 862.99 572.36 863.51 571C864.04 569.63 864.61 566.68 865.15 564.68C865.7 562.68 866.31 559.84 866.8 559C867.28 558.15 867.6 558.47 868.06 559.63C868.52 560.79 869.05 563.63 869.58 565.94C870.1 568.26 870.65 571.73 871.22 573.52C871.79 575.31 872.42 576.68 872.99 576.68C873.55 576.68 874.04 575.73 874.63 573.52C875.22 571.31 875.89 567 876.52 563.42C877.15 559.84 877.85 555 878.42 552.05C878.99 549.1 879.45 547.1 879.93 545.73C880.42 544.37 880.84 543.73 881.32 543.84C881.81 543.94 882.27 544.58 882.84 546.37C883.41 548.15 884.1 551.73 884.73 554.58C885.36 557.42 886 560.89 886.63 563.42C887.26 565.94 887.95 568.36 888.52 569.73C889.09 571.1 889.51 571.84 890.04 571.63C890.56 571.42 891.09 570.68 891.68 568.47C892.27 566.26 893.1 561.31 893.57 558.36C894.05 555.42 894.21 553.31 894.52 550.79C894.84 548.26 895 546.15 895.47 543.21C895.94 540.26 896.73 535.52 897.36 533.1C898 530.68 898.63 529.78 899.26 528.68C899.89 527.59 900.48 527.06 901.15 526.53C901.83 526.01 902.56 525.73 903.3 525.52C904.04 525.31 905.2 525.31 905.57 525.27" stroke="#0000ff"/>
</g>
<g stroke="#0c0a0a" stroke-width="1.3" fill="none">
<path d="M688.4 369.3H693M688.4 467H693M688.4 564.7H693M688.4 401.9H693M688.4 434.5H693M688.4 499.8H693M688.4 532.3H693M693 587.5V591.9M777.32 587.5V591.9M861.64 587.5V591.9M735.16 587.5V591.9M819.48 587.5V591.9M903.8 587.5V591.9"/>
<rect x="693" y="358.8" width="210.8" height="228.7" stroke-width="1.4"/>
</g>
<clipPath id="c31"><rect x="128.5" y="638.2" width="210.9" height="228.4"/></clipPath>
<g clip-path="url(#c31)" fill="none" stroke-width="2.4" stroke-linejoin="round" stroke-linecap="butt">
<path d="M128.47 856.33C129.7 856.33 133.36 856.33 135.81 856.33C138.25 856.33 140.7 856.33 143.14 856.33C145.59 856.33 148.58 856.34 150.47 856.33C152.37 856.33 153.45 856.32 154.5 856.3C155.55 856.28 155.98 856.28 156.8 856.2C157.62 856.12 158.55 856.08 159.4 855.8C160.25 855.52 161.07 855.1 161.9 854.5C162.73 853.9 163.57 853.18 164.4 852.2C165.23 851.22 166.05 849.82 166.9 848.6C167.75 847.38 168.65 846.15 169.5 844.9C170.35 843.65 171.17 842.37 172 841.1C172.83 839.83 173.8 838.5 174.5 837.3C175.2 836.1 175.63 835.38 176.2 833.9C176.77 832.42 177.33 830.57 177.9 828.4C178.47 826.23 179.12 823.42 179.6 820.9C180.08 818.38 180.43 815.97 180.8 813.3C181.18 810.63 181.5 807.99 181.85 804.9C182.2 801.81 182.61 797.28 182.9 794.75C183.19 792.22 183.41 792.44 183.6 789.7C183.79 786.96 183.9 781.44 184.06 778.28C184.21 775.13 184.36 773.27 184.52 770.76C184.67 768.25 184.83 765.74 184.98 763.23C185.14 760.72 185.29 758.21 185.44 755.71C185.6 753.2 185.76 750.78 185.91 748.18C186.05 745.57 186.18 742.77 186.31 740.07C186.45 737.37 186.58 734.67 186.72 731.97C186.85 729.27 186.99 726.56 187.12 723.86C187.26 721.16 187.38 718.55 187.53 715.76C187.67 712.96 187.84 709.97 187.99 707.07C188.15 704.18 188.3 701.28 188.46 698.39C188.61 695.49 188.76 692.6 188.92 689.7C189.07 686.81 189.21 683.75 189.38 681.02C189.55 678.28 189.74 675.87 189.92 673.3C190.1 670.72 190.28 668.15 190.46 665.58C190.64 663.01 190.64 660.61 191 657.86C191.36 655.11 192.12 650.41 192.62 649.06C193.13 647.71 193.51 647.9 194.01 649.75C194.52 651.61 195.23 657.09 195.63 660.17C196.04 663.26 196.17 665.58 196.45 668.28C196.72 670.98 196.81 672.91 197.26 676.39C197.7 679.86 198.41 685.73 199.11 689.12C199.8 692.52 200.46 694.72 201.42 696.77C202.39 698.81 203.55 700.16 204.9 701.4C206.25 702.63 207.79 703.52 209.53 704.18C211.27 704.83 213.39 705.06 215.32 705.33C217.25 705.6 219.49 705.91 221.11 705.8C222.73 705.68 223.89 704.6 225.05 704.64C226.2 704.68 226.98 704.95 228.06 706.03C229.14 707.11 230.37 708.54 231.53 711.12C232.69 713.71 234.14 718.55 235 721.55C235.87 724.54 236.16 726.56 236.74 729.07C237.32 731.58 237.61 733.22 238.48 736.6C239.35 739.98 240.79 745.86 241.95 749.34C243.11 752.81 244.27 755.51 245.43 757.44C246.58 759.37 247.82 760.22 248.9 760.92C249.98 761.61 250.95 761.69 251.91 761.61C252.88 761.53 253.65 761.34 254.69 760.45C255.73 759.56 257.01 758.33 258.16 756.28C259.32 754.24 260.77 750.69 261.64 748.18C262.51 745.67 262.8 743.55 263.37 741.23C263.95 738.91 264.59 736.79 265.11 734.28C265.63 731.77 266.04 728.88 266.5 726.18C266.96 723.48 267.27 721.55 267.89 718.07C268.51 714.6 269.51 707.92 270.21 705.33C270.9 702.75 271.44 702.36 272.06 702.56C272.68 702.75 273.26 704.29 273.91 706.49C274.57 708.69 275.26 712.86 276 715.76C276.73 718.65 277.42 721.74 278.31 723.86C279.2 725.98 280.24 727.61 281.32 728.49C282.4 729.38 283.64 729.27 284.8 729.19C285.95 729.11 287.31 727.88 288.27 728.03C289.23 728.18 289.62 728.69 290.59 730.11C291.55 731.54 292.9 734.44 294.06 736.6C295.22 738.76 296.38 741.35 297.53 743.08C298.69 744.82 299.85 746.09 301.01 747.02C302.17 747.95 303.32 748.45 304.48 748.64C305.64 748.83 306.8 748.41 307.96 748.18C309.11 747.95 310.27 747.06 311.43 747.25C312.59 747.45 313.55 748.33 314.9 749.34C316.25 750.34 317.99 751.92 319.53 753.27C321.08 754.62 322.62 756.28 324.17 757.44C325.71 758.6 327.25 759.53 328.8 760.22C330.34 760.92 331.69 761.46 333.43 761.61C335.17 761.76 337.68 761.3 339.22 761.15C340.76 760.99 342.11 760.76 342.69 760.68" stroke="#ff0000"/>
<path d="M128.47 856.63C129.7 856.63 133.36 856.63 135.81 856.63C138.25 856.63 140.7 856.63 143.14 856.63C145.59 856.63 148.58 856.64 150.47 856.63C152.37 856.63 153.45 856.62 154.5 856.6C155.55 856.58 155.98 856.58 156.8 856.5C157.62 856.42 158.55 856.38 159.4 856.1C160.25 855.82 161.07 855.4 161.9 854.8C162.73 854.2 163.57 853.48 164.4 852.5C165.23 851.52 166.05 850.12 166.9 848.9C167.75 847.68 168.65 846.45 169.5 845.2C170.35 843.95 171.17 842.67 172 841.4C172.83 840.13 173.8 838.8 174.5 837.6C175.2 836.4 175.63 835.68 176.2 834.2C176.77 832.72 177.33 830.87 177.9 828.7C178.47 826.53 179.12 823.72 179.6 821.2C180.08 818.68 180.43 816.27 180.8 813.6C181.18 810.93 181.5 808.29 181.85 805.2C182.2 802.11 182.61 797.58 182.9 795.05C183.19 792.52 183.41 792.74 183.6 790C183.79 787.26 183.9 781.74 184.06 778.58C184.21 775.43 184.36 773.57 184.52 771.06C184.67 768.55 184.83 766.04 184.98 763.53C185.14 761.02 185.29 758.51 185.44 756.01C185.6 753.5 185.76 751.08 185.91 748.48C186.05 745.87 186.18 743.07 186.31 740.37C186.45 737.67 186.58 734.97 186.72 732.27C186.85 729.57 186.99 726.86 187.12 724.16C187.26 721.46 187.38 718.85 187.53 716.06C187.67 713.26 187.84 710.27 187.99 707.37C188.15 704.48 188.3 701.58 188.46 698.69C188.61 695.79 188.76 692.9 188.92 690C189.07 687.11 189.21 684.05 189.38 681.32C189.55 678.58 189.74 676.17 189.92 673.6C190.1 671.02 190.28 668.45 190.46 665.88C190.64 663.31 190.64 660.91 191 658.16C191.36 655.41 192.12 650.71 192.62 649.36C193.13 648.01 193.51 648.2 194.01 650.05C194.52 651.91 195.23 657.39 195.63 660.47C196.04 663.56 196.17 665.88 196.45 668.58C196.72 671.28 196.81 673.21 197.26 676.69C197.7 680.16 198.41 686.03 199.11 689.42C199.8 692.82 200.46 695.02 201.42 697.07C202.39 699.11 203.55 700.46 204.9 701.7C206.25 702.93 207.79 703.82 209.53 704.48C211.27 705.13 213.39 705.36 215.32 705.63C217.25 705.9 219.49 706.21 221.11 706.1C222.73 705.98 223.89 704.9 225.05 704.94C226.2 704.98 226.98 705.25 228.06 706.33C229.14 707.41 230.37 708.84 231.53 711.42C232.69 714.01 234.14 718.85 235 721.85C235.87 724.84 236.16 726.86 236.74 729.37C237.32 731.88 237.61 733.52 238.48 736.9C239.35 740.28 240.79 746.16 241.95 749.64C243.11 753.11 244.27 755.81 245.43 757.74C246.58 759.67 247.82 760.52 248.9 761.22C249.98 761.91 250.95 761.99 251.91 761.91C252.88 761.83 253.65 761.64 254.69 760.75C255.73 759.86 257.01 758.63 258.16 756.58C259.32 754.54 260.77 750.99 261.64 748.48C262.51 745.97 262.8 743.85 263.37 741.53C263.95 739.21 264.59 737.09 265.11 734.58C265.63 732.07 266.04 729.18 266.5 726.48C266.96 723.78 267.27 721.85 267.89 718.37C268.51 714.9 269.51 708.22 270.21 705.63C270.9 703.05 271.44 702.66 272.06 702.86C272.68 703.05 273.26 704.59 273.91 706.79C274.57 708.99 275.26 713.16 276 716.06C276.73 718.95 277.42 722.04 278.31 724.16C279.2 726.28 280.24 727.91 281.32 728.79C282.4 729.68 283.64 729.57 284.8 729.49C285.95 729.41 287.31 728.18 288.27 728.33C289.23 728.48 289.62 728.99 290.59 730.41C291.55 731.84 292.9 734.74 294.06 736.9C295.22 739.06 296.38 741.65 297.53 743.38C298.69 745.12 299.85 746.39 301.01 747.32C302.17 748.25 303.32 748.75 304.48 748.94C305.64 749.13 306.8 748.71 307.96 748.48C309.11 748.25 310.27 747.36 311.43 747.55C312.59 747.75 313.55 748.63 314.9 749.64C316.25 750.64 317.99 752.22 319.53 753.57C321.08 754.92 322.62 756.58 324.17 757.74C325.71 758.9 327.25 759.83 328.8 760.52C330.34 761.22 331.69 761.76 333.43 761.91C335.17 762.06 337.68 761.6 339.22 761.45C340.76 761.29 342.11 761.06 342.69 760.98" stroke="#0000ff"/>
</g>
<g stroke="#0c0a0a" stroke-width="1.3" fill="none">
<path d="M123.9 666.8H128.5M123.9 761.6H128.5M123.9 856.4H128.5M123.9 698.4H128.5M123.9 730H128.5M123.9 793.2H128.5M123.9 824.8H128.5M128.5 866.6V871M212.86 866.6V871M297.22 866.6V871M170.68 866.6V871M255.04 866.6V871M339.4 866.6V871"/>
<rect x="128.5" y="638.2" width="210.9" height="228.4" stroke-width="1.4"/>
</g>
<clipPath id="c32"><rect x="410.5" y="638.2" width="210.8" height="228.4"/></clipPath>
<g clip-path="url(#c32)" fill="none" stroke-width="2.3" stroke-linejoin="round" stroke-linecap="butt">
<path d="M409.5 647.9C410.01 648.05 411.52 648.52 412.54 648.82C413.55 649.12 414.56 649.42 415.57 649.71C416.58 650 417.6 650.29 418.61 650.57C419.62 650.86 420.63 651.14 421.64 651.43C422.65 651.71 423.67 652 424.68 652.28C425.69 652.57 426.7 652.86 427.71 653.15C428.73 653.44 429.74 653.73 430.75 654.03C431.76 654.33 432.77 654.64 433.79 654.95C434.8 655.26 435.81 655.57 436.82 655.9C437.83 656.22 438.85 656.55 439.86 656.89C440.87 657.23 441.88 657.58 442.89 657.93C443.9 658.29 444.92 658.66 445.93 659.04C446.94 659.41 447.95 659.8 448.96 660.2C449.98 660.6 450.99 661.01 452 661.44C453.01 661.86 454.02 662.29 455.04 662.74C456.05 663.19 457.06 663.65 458.07 664.12C459.08 664.6 460.1 665.09 461.11 665.59C462.12 666.09 463.13 666.61 464.14 667.14C465.15 667.67 466.17 668.21 467.18 668.77C468.19 669.33 469.2 669.9 470.21 670.49C471.23 671.08 472.24 671.68 473.25 672.3C474.26 672.92 475.27 673.56 476.29 674.21C477.3 674.86 478.31 675.52 479.32 676.2C480.33 676.89 481.35 677.58 482.36 678.3C483.37 679.01 484.38 679.74 485.39 680.48C486.4 681.22 487.42 681.98 488.43 682.76C489.44 683.53 490.45 684.32 491.46 685.13C492.48 685.94 493.49 686.76 494.5 687.6C495.51 688.43 496.52 689.29 497.54 690.15C498.55 691.02 499.56 691.9 500.57 692.8C501.58 693.7 502.6 694.61 503.61 695.54C504.62 696.47 505.63 697.41 506.64 698.37C507.65 699.33 508.67 700.3 509.68 701.28C510.69 702.27 511.7 703.27 512.71 704.28C513.73 705.3 514.74 706.33 515.75 707.37C516.76 708.41 517.77 709.47 518.79 710.54C519.8 711.6 520.81 712.69 521.82 713.78C522.83 714.88 523.85 715.98 524.86 717.1C525.87 718.22 526.88 719.36 527.89 720.5C528.9 721.65 529.92 722.8 530.93 723.97C531.94 725.14 532.95 726.32 533.96 727.52C534.98 728.71 535.99 729.91 537 731.13C538.01 732.34 539.02 733.57 540.04 734.81C541.05 736.04 542.06 737.29 543.07 738.55C544.08 739.81 545.1 741.08 546.11 742.35C547.12 743.63 548.13 744.92 549.14 746.22C550.15 747.52 551.17 748.83 552.18 750.14C553.19 751.46 554.2 752.79 555.21 754.13C556.23 755.46 557.24 756.81 558.25 758.16C559.26 759.52 560.27 760.88 561.29 762.26C562.3 763.63 563.31 765.01 564.32 766.4C565.33 767.79 566.35 769.19 567.36 770.6C568.37 772.01 569.38 773.42 570.39 774.85C571.4 776.27 572.42 777.71 573.43 779.15C574.44 780.59 575.45 782.04 576.46 783.5C577.48 784.96 578.49 786.43 579.5 787.9C580.51 789.38 581.52 790.86 582.54 792.36C583.55 793.85 584.56 795.35 585.57 796.86C586.58 798.38 587.6 799.9 588.61 801.42C589.62 802.95 590.63 804.49 591.64 806.04C592.65 807.59 593.67 809.15 594.68 810.71C595.69 812.28 596.7 813.86 597.71 815.45C598.73 817.04 599.74 818.63 600.75 820.24C601.76 821.85 602.77 823.47 603.79 825.11C604.8 826.74 605.81 828.38 606.82 830.04C607.83 831.69 608.85 833.36 609.86 835.04C610.87 836.73 611.88 838.42 612.89 840.13C613.9 841.84 614.92 843.56 615.93 845.3C616.94 847.04 617.95 848.79 618.96 850.56C619.98 852.33 621.49 855.02 622 855.91" stroke="#ff0000"/>
<path d="M409.5 648.2C410.01 648.35 411.52 648.82 412.54 649.12C413.55 649.42 414.56 649.72 415.57 650.01C416.58 650.3 417.6 650.59 418.61 650.87C419.62 651.16 420.63 651.44 421.64 651.73C422.65 652.01 423.67 652.3 424.68 652.58C425.69 652.87 426.7 653.16 427.71 653.45C428.73 653.74 429.74 654.03 430.75 654.33C431.76 654.63 432.77 654.94 433.79 655.25C434.8 655.56 435.81 655.87 436.82 656.2C437.83 656.52 438.85 656.85 439.86 657.19C440.87 657.53 441.88 657.88 442.89 658.23C443.9 658.59 444.92 658.96 445.93 659.34C446.94 659.71 447.95 660.1 448.96 660.5C449.98 660.9 450.99 661.31 452 661.74C453.01 662.16 454.02 662.59 455.04 663.04C456.05 663.49 457.06 663.95 458.07 664.42C459.08 664.9 460.1 665.39 461.11 665.89C462.12 666.39 463.13 666.91 464.14 667.44C465.15 667.97 466.17 668.51 467.18 669.07C468.19 669.63 469.2 670.2 470.21 670.79C471.23 671.38 472.24 671.98 473.25 672.6C474.26 673.22 475.27 673.86 476.29 674.51C477.3 675.16 478.31 675.82 479.32 676.5C480.33 677.19 481.35 677.88 482.36 678.6C483.37 679.31 484.38 680.04 485.39 680.78C486.4 681.52 487.42 682.28 488.43 683.06C489.44 683.83 490.45 684.62 491.46 685.43C492.48 686.24 493.49 687.06 494.5 687.9C495.51 688.73 496.52 689.59 497.54 690.45C498.55 691.32 499.56 692.2 500.57 693.1C501.58 694 502.6 694.91 503.61 695.84C504.62 696.77 505.63 697.71 506.64 698.67C507.65 699.63 508.67 700.6 509.68 701.58C510.69 702.57 511.7 703.57 512.71 704.58C513.73 705.6 514.74 706.63 515.75 707.67C516.76 708.71 517.77 709.77 518.79 710.84C519.8 711.9 520.81 712.99 521.82 714.08C522.83 715.18 523.85 716.28 524.86 717.4C525.87 718.52 526.88 719.66 527.89 720.8C528.9 721.95 529.92 723.1 530.93 724.27C531.94 725.44 532.95 726.62 533.96 727.82C534.98 729.01 535.99 730.21 537 731.43C538.01 732.64 539.02 733.87 540.04 735.11C541.05 736.34 542.06 737.59 543.07 738.85C544.08 740.11 545.1 741.38 546.11 742.65C547.12 743.93 548.13 745.22 549.14 746.52C550.15 747.82 551.17 749.13 552.18 750.44C553.19 751.76 554.2 753.09 555.21 754.43C556.23 755.76 557.24 757.11 558.25 758.46C559.26 759.82 560.27 761.18 561.29 762.56C562.3 763.93 563.31 765.31 564.32 766.7C565.33 768.09 566.35 769.49 567.36 770.9C568.37 772.31 569.38 773.72 570.39 775.15C571.4 776.57 572.42 778.01 573.43 779.45C574.44 780.89 575.45 782.34 576.46 783.8C577.48 785.26 578.49 786.73 579.5 788.2C580.51 789.68 581.52 791.16 582.54 792.66C583.55 794.15 584.56 795.65 585.57 797.16C586.58 798.68 587.6 800.2 588.61 801.72C589.62 803.25 590.63 804.79 591.64 806.34C592.65 807.89 593.67 809.45 594.68 811.01C595.69 812.58 596.7 814.16 597.71 815.75C598.73 817.34 599.74 818.93 600.75 820.54C601.76 822.15 602.77 823.77 603.79 825.41C604.8 827.04 605.81 828.68 606.82 830.34C607.83 831.99 608.85 833.66 609.86 835.34C610.87 837.03 611.88 838.72 612.89 840.43C613.9 842.14 614.92 843.86 615.93 845.6C616.94 847.34 617.95 849.09 618.96 850.86C619.98 852.63 621.49 855.32 622 856.21" stroke="#0000ff"/>
</g>
<g stroke="#0c0a0a" stroke-width="1.3" fill="none">
<path d="M405.9 649.1H410.5M405.9 710.4H410.5M405.9 771.8H410.5M405.9 833.6H410.5M405.9 679.8H410.5M405.9 741H410.5M405.9 802.8H410.5M405.9 864.5H410.5M433.92 866.6V871M527.61 866.6V871M621.3 866.6V871M480.77 866.6V871M574.46 866.6V871"/>
<rect x="410.5" y="638.2" width="210.8" height="228.4" stroke-width="1.4"/>
</g>
<clipPath id="c33"><rect x="693" y="638.2" width="210.8" height="228.4"/></clipPath>
<g clip-path="url(#c33)" fill="none" stroke-width="2.4" stroke-linejoin="round" stroke-linecap="butt">
<path d="M692.69 805.85C694.99 805.85 703.32 805.84 706.49 805.85C709.66 805.86 710 805.89 711.7 805.9C713.4 805.91 715.47 805.91 716.7 805.9C717.93 805.89 718.35 805.92 719.1 805.85C719.85 805.78 720.5 805.77 721.2 805.5C721.9 805.23 722.67 804.8 723.3 804.2C723.93 803.6 724.45 802.85 725 801.9C725.55 800.95 726.05 799.83 726.6 798.5C727.15 797.17 727.8 795.52 728.3 793.9C728.8 792.28 729.17 790.77 729.6 788.8C730.03 786.83 730.48 784.48 730.9 782.1C731.32 779.72 731.68 777.03 732.1 774.5C732.52 771.97 732.98 768.78 733.4 766.9C733.82 765.02 734.12 764.18 734.6 763.2C735.08 762.23 735.67 761.8 736.3 761.05C736.93 760.3 737.7 759.54 738.4 758.7C739.1 757.86 739.87 756.62 740.5 756C741.13 755.38 741.63 755.07 742.2 755C742.77 754.93 743.33 755.4 743.9 755.6C744.47 755.8 745.03 756.27 745.6 756.2C746.17 756.13 746.82 756.08 747.3 755.2C747.78 754.32 748.12 752.59 748.5 750.9C748.88 749.21 749.29 747.37 749.55 745.05C749.81 742.73 749.89 739.65 750.05 736.95C750.22 734.25 750.39 731.68 750.56 728.85C750.72 726.02 750.88 722.93 751.04 719.97C751.21 717.01 751.37 714.06 751.53 711.1C751.69 708.14 751.87 704.91 752.01 702.22C752.15 699.53 752.25 697.38 752.38 694.95C752.5 692.53 752.62 690.11 752.74 687.69C752.86 685.27 752.98 682.85 753.1 680.43C753.22 678 753.3 675.99 753.47 673.16C753.63 670.34 753.87 666.71 754.07 663.48C754.27 660.25 754.37 656.29 754.68 653.79C754.98 651.29 755.48 648.67 755.89 648.46C756.29 648.26 756.77 650.18 757.1 652.58C757.42 654.98 757.58 659.44 757.82 662.87C758.07 666.3 758.36 670.14 758.55 673.16C758.74 676.19 758.83 678.41 758.97 681.03C759.11 683.65 759.26 686.28 759.4 688.9C759.54 691.52 759.68 694.15 759.82 696.77C759.96 699.39 760.11 702.12 760.24 704.64C760.38 707.16 760.5 709.48 760.63 711.9C760.76 714.32 760.89 716.75 761.02 719.17C761.15 721.59 761.28 724.01 761.41 726.43C761.54 728.85 761.67 731.27 761.79 733.69C761.92 736.12 762.04 738.44 762.18 740.96C762.33 743.48 762.5 746.21 762.67 748.83C762.83 751.45 762.99 754.07 763.15 756.7C763.31 759.32 763.47 761.94 763.63 764.57C763.8 767.19 763.92 769.78 764.12 772.44C764.32 775.09 764.6 777.82 764.85 780.51C765.09 783.2 765.33 785.89 765.57 788.58C765.81 791.27 765.96 793.99 766.3 796.65C766.64 799.31 767.19 801.9 767.63 804.52C768.07 807.14 768.17 809.26 768.96 812.39C769.75 815.51 771.14 820.34 772.35 823.28C773.56 826.23 774.89 828.33 776.23 830.06C777.56 831.8 779.25 833.01 780.34 833.69C781.43 834.38 781.96 834.38 782.76 834.18C783.57 833.98 784.26 833.49 785.18 832.48C786.11 831.48 787.4 829.01 788.33 828.13C789.26 827.24 789.95 827.04 790.75 827.16C791.56 827.28 792.29 828.09 793.17 828.85C794.06 829.62 795.11 831.07 796.08 831.76C797.05 832.44 797.98 832.69 798.99 832.97C799.99 833.25 801 833.13 802.13 833.45C803.26 833.78 804.55 834.46 805.77 834.91C806.98 835.35 808.27 835.83 809.4 836.12C810.53 836.4 811.46 836.72 812.55 836.6C813.63 836.48 814.72 836.2 815.93 835.39C817.15 834.58 818.6 833.37 819.81 831.76C821.02 830.14 822.11 828.53 823.2 825.7C824.29 822.88 825.58 818.14 826.35 814.81C827.11 811.48 827.32 808.76 827.8 805.73C828.28 802.7 828.88 799.37 829.25 796.65C829.63 793.92 829.79 791.81 830.06 789.38C830.33 786.96 830.6 784.54 830.87 782.12C831.14 779.7 831.38 777.38 831.67 774.86C831.97 772.33 832.32 769.61 832.64 766.99C832.96 764.36 833.17 761.04 833.61 759.12C834.05 757.2 834.7 755.28 835.31 755.49C835.91 755.69 836.72 758.11 837.24 760.33C837.77 762.55 838.05 765.98 838.45 768.8C838.86 771.63 839.22 774.45 839.66 777.28C840.11 780.1 840.63 782.93 841.12 785.75C841.6 788.58 841.8 790.8 842.57 794.23C843.34 797.66 844.67 802.9 845.72 806.33C846.77 809.76 847.86 812.71 848.86 814.81C849.87 816.91 850.68 817.92 851.77 818.92C852.86 819.93 854.19 820.14 855.4 820.86C856.61 821.59 857.82 822.48 859.03 823.28C860.24 824.09 861.46 824.7 862.67 825.7C863.88 826.71 865.21 827.92 866.3 829.34C867.39 830.75 868.19 831.96 869.2 834.18C870.21 836.4 871.3 840.03 872.35 842.65C873.4 845.28 874.49 848.22 875.5 849.92C876.51 851.61 877.32 852.22 878.4 852.82C879.49 853.43 880.62 853.39 882.04 853.55C883.45 853.71 885.06 853.59 886.88 853.79C888.7 853.99 890.91 854.48 892.93 854.76C894.95 855.04 897.17 855.28 898.99 855.49C900.8 855.69 902.42 855.85 903.83 855.97C905.24 856.09 906.85 856.17 907.46 856.21" stroke="#ff0000"/>
<path d="M692.99 805.85C695.29 805.85 703.62 805.84 706.79 805.85C709.96 805.86 710.3 805.89 712 805.9C713.7 805.91 715.77 805.91 717 805.9C718.23 805.89 718.65 805.92 719.4 805.85C720.15 805.78 720.8 805.77 721.5 805.5C722.2 805.23 722.97 804.8 723.6 804.2C724.23 803.6 724.75 802.85 725.3 801.9C725.85 800.95 726.35 799.83 726.9 798.5C727.45 797.17 728.1 795.52 728.6 793.9C729.1 792.28 729.47 790.77 729.9 788.8C730.33 786.83 730.78 784.48 731.2 782.1C731.62 779.72 731.98 777.03 732.4 774.5C732.82 771.97 733.28 768.78 733.7 766.9C734.12 765.02 734.42 764.18 734.9 763.2C735.38 762.23 735.97 761.8 736.6 761.05C737.23 760.3 738 759.54 738.7 758.7C739.4 757.86 740.17 756.62 740.8 756C741.43 755.38 741.93 755.07 742.5 755C743.07 754.93 743.63 755.4 744.2 755.6C744.77 755.8 745.33 756.27 745.9 756.2C746.47 756.13 747.12 756.08 747.6 755.2C748.08 754.32 748.42 752.59 748.8 750.9C749.17 749.21 749.59 747.37 749.85 745.05C750.11 742.73 750.19 739.65 750.35 736.95C750.52 734.25 750.69 731.68 750.86 728.85C751.02 726.02 751.18 722.93 751.34 719.97C751.51 717.01 751.67 714.06 751.83 711.1C751.99 708.14 752.17 704.91 752.31 702.22C752.45 699.53 752.55 697.38 752.68 694.95C752.8 692.53 752.92 690.11 753.04 687.69C753.16 685.27 753.28 682.85 753.4 680.43C753.52 678 753.6 675.99 753.77 673.16C753.93 670.34 754.17 666.71 754.37 663.48C754.57 660.25 754.67 656.29 754.98 653.79C755.28 651.29 755.78 648.67 756.19 648.46C756.59 648.26 757.07 650.18 757.4 652.58C757.72 654.98 757.88 659.44 758.12 662.87C758.37 666.3 758.66 670.14 758.85 673.16C759.04 676.19 759.13 678.41 759.27 681.03C759.41 683.65 759.56 686.28 759.7 688.9C759.84 691.52 759.98 694.15 760.12 696.77C760.26 699.39 760.41 702.12 760.54 704.64C760.68 707.16 760.8 709.48 760.93 711.9C761.06 714.32 761.19 716.75 761.32 719.17C761.45 721.59 761.58 724.01 761.71 726.43C761.84 728.85 761.97 731.27 762.09 733.69C762.22 736.12 762.34 738.44 762.48 740.96C762.63 743.48 762.8 746.21 762.97 748.83C763.13 751.45 763.29 754.07 763.45 756.7C763.61 759.32 763.77 761.94 763.93 764.57C764.1 767.19 764.22 769.78 764.42 772.44C764.62 775.09 764.9 777.82 765.15 780.51C765.39 783.2 765.63 785.89 765.87 788.58C766.11 791.27 766.26 793.99 766.6 796.65C766.94 799.31 767.49 801.9 767.93 804.52C768.37 807.14 768.47 809.26 769.26 812.39C770.05 815.51 771.44 820.34 772.65 823.28C773.86 826.23 775.19 828.33 776.53 830.06C777.86 831.8 779.55 833.01 780.64 833.69C781.73 834.38 782.26 834.38 783.06 834.18C783.87 833.98 784.56 833.49 785.48 832.48C786.41 831.48 787.7 829.01 788.63 828.13C789.56 827.24 790.25 827.04 791.05 827.16C791.86 827.28 792.59 828.09 793.47 828.85C794.36 829.62 795.41 831.07 796.38 831.76C797.35 832.44 798.28 832.69 799.29 832.97C800.29 833.25 801.3 833.13 802.43 833.45C803.56 833.78 804.85 834.46 806.07 834.91C807.28 835.35 808.57 835.83 809.7 836.12C810.83 836.4 811.76 836.72 812.85 836.6C813.93 836.48 815.02 836.2 816.23 835.39C817.45 834.58 818.9 833.37 820.11 831.76C821.32 830.14 822.41 828.53 823.5 825.7C824.59 822.88 825.88 818.14 826.65 814.81C827.41 811.48 827.62 808.76 828.1 805.73C828.58 802.7 829.18 799.37 829.55 796.65C829.93 793.92 830.09 791.81 830.36 789.38C830.63 786.96 830.9 784.54 831.17 782.12C831.44 779.7 831.68 777.38 831.97 774.86C832.27 772.33 832.62 769.61 832.94 766.99C833.26 764.36 833.47 761.04 833.91 759.12C834.35 757.2 835 755.28 835.61 755.49C836.21 755.69 837.02 758.11 837.54 760.33C838.07 762.55 838.35 765.98 838.75 768.8C839.16 771.63 839.52 774.45 839.96 777.28C840.41 780.1 840.93 782.93 841.42 785.75C841.9 788.58 842.1 790.8 842.87 794.23C843.64 797.66 844.97 802.9 846.02 806.33C847.07 809.76 848.16 812.71 849.16 814.81C850.17 816.91 850.98 817.92 852.07 818.92C853.16 819.93 854.49 820.14 855.7 820.86C856.91 821.59 858.12 822.48 859.33 823.28C860.54 824.09 861.76 824.7 862.97 825.7C864.18 826.71 865.51 827.92 866.6 829.34C867.69 830.75 868.49 831.96 869.5 834.18C870.51 836.4 871.6 840.03 872.65 842.65C873.7 845.28 874.79 848.22 875.8 849.92C876.81 851.61 877.62 852.22 878.7 852.82C879.79 853.43 880.92 853.39 882.34 853.55C883.75 853.71 885.36 853.59 887.18 853.79C889 853.99 891.21 854.48 893.23 854.76C895.25 855.04 897.47 855.28 899.29 855.49C901.1 855.69 902.72 855.85 904.13 855.97C905.54 856.09 907.15 856.17 907.76 856.21" stroke="#0000ff"/>
</g>
<g stroke="#0c0a0a" stroke-width="1.3" fill="none">
<path d="M688.4 639.6H693M688.4 695.1H693M688.4 750.5H693M688.4 806.1H693M688.4 861.6H693M693 866.6V871M777.32 866.6V871M861.64 866.6V871M735.16 866.6V871M819.48 866.6V871M903.8 866.6V871"/>
<rect x="693" y="638.2" width="210.8" height="228.4" stroke-width="1.4"/>
</g>
<clipPath id="c41"><rect x="128.5" y="917.8" width="210.9" height="228.3"/></clipPath>
<g clip-path="url(#c41)" fill="none" stroke-width="2.4" stroke-linejoin="round" stroke-linecap="butt">
<path d="M128.96 1135.67C130.48 1135.67 135.04 1135.67 138.08 1135.67C141.12 1135.67 144.16 1135.67 147.2 1135.67C150.24 1135.67 153.67 1135.87 156.32 1135.67C158.97 1135.47 161.28 1135.15 163.1 1134.46C164.92 1133.77 165.72 1132.64 167.22 1131.55C168.71 1130.47 170.44 1129.05 172.06 1127.92C173.67 1126.79 175.49 1125.78 176.9 1124.78C178.31 1123.77 179.32 1123.16 180.53 1121.87C181.74 1120.58 182.95 1118.88 184.16 1117.03C185.38 1115.17 186.59 1112.79 187.8 1110.73C189.01 1108.67 190.3 1106.17 191.43 1104.68C192.56 1103.19 193.57 1102.14 194.58 1101.77C195.59 1101.41 196.39 1102.1 197.48 1102.5C198.57 1102.9 199.98 1104.11 201.11 1104.19C202.24 1104.27 203.17 1103.79 204.26 1102.98C205.35 1102.18 206.48 1100.76 207.65 1099.35C208.82 1097.94 210.15 1095.64 211.28 1094.51C212.41 1093.38 213.3 1092.81 214.43 1092.57C215.56 1092.33 216.85 1092.81 218.06 1093.06C219.27 1093.3 220.36 1093.86 221.69 1094.02C223.03 1094.19 224.76 1094.35 226.05 1094.02C227.34 1093.7 228.23 1093.02 229.44 1092.09C230.65 1091.16 232.11 1089.79 233.32 1088.46C234.53 1087.12 235.62 1086.11 236.71 1084.1C237.8 1082.08 238.81 1079.25 239.85 1076.35C240.9 1073.44 241.99 1069.49 243 1066.66C244.01 1063.84 244.94 1061.62 245.91 1059.4C246.88 1057.18 247.8 1055.57 248.81 1053.35C249.82 1051.13 250.91 1048.62 251.96 1046.08C253.01 1043.54 254.1 1039.99 255.11 1038.09C256.12 1036.2 257.05 1035.59 258.01 1034.7C258.98 1033.81 259.91 1033.9 260.92 1032.77C261.93 1031.64 263.02 1030.14 264.07 1027.92C265.12 1025.7 266.21 1022.27 267.22 1019.45C268.22 1016.62 269.15 1014 270.12 1010.97C271.09 1007.95 272.1 1004.32 273.03 1001.29C273.95 998.26 274.84 994.91 275.69 992.81C276.54 990.72 277.1 989.63 278.11 988.7C279.12 987.77 280.65 988.05 281.74 987.24C282.83 986.44 283.56 985.55 284.65 983.85C285.74 982.16 287.07 979.21 288.28 977.08C289.49 974.94 290.7 972.84 291.91 971.02C293.12 969.21 294.13 967.71 295.54 966.18C296.96 964.65 298.77 963.35 300.39 961.82C302 960.29 303.9 959.08 305.23 956.98C306.56 954.88 307.45 952.14 308.38 949.23C309.31 946.32 309.99 942.49 310.8 939.55C311.61 936.6 312.33 933.45 313.22 931.55C314.11 929.66 315.04 928.65 316.13 928.16C317.22 927.68 318.35 928.69 319.76 928.65C321.17 928.61 322.99 927.88 324.6 927.92C326.21 927.96 328.03 928.69 329.44 928.89C330.86 929.09 331.86 928.69 333.08 929.13C334.29 929.58 335.62 930.55 336.71 931.55C337.8 932.56 338.6 933.73 339.61 935.19C340.62 936.64 342.24 939.42 342.76 940.27" stroke="#ff0000"/>
<path d="M128.96 1135.97C130.48 1135.97 135.04 1135.97 138.08 1135.97C141.12 1135.97 144.16 1135.97 147.2 1135.97C150.24 1135.97 153.67 1136.17 156.32 1135.97C158.97 1135.77 161.28 1135.45 163.1 1134.76C164.92 1134.07 165.72 1132.94 167.22 1131.85C168.71 1130.77 170.44 1129.35 172.06 1128.22C173.67 1127.09 175.49 1126.08 176.9 1125.08C178.31 1124.07 179.32 1123.46 180.53 1122.17C181.74 1120.88 182.95 1119.18 184.16 1117.33C185.38 1115.47 186.59 1113.09 187.8 1111.03C189.01 1108.97 190.3 1106.47 191.43 1104.98C192.56 1103.49 193.57 1102.44 194.58 1102.07C195.59 1101.71 196.39 1102.4 197.48 1102.8C198.57 1103.2 199.98 1104.41 201.11 1104.49C202.24 1104.57 203.17 1104.09 204.26 1103.28C205.35 1102.48 206.48 1101.06 207.65 1099.65C208.82 1098.24 210.15 1095.94 211.28 1094.81C212.41 1093.68 213.3 1093.11 214.43 1092.87C215.56 1092.63 216.85 1093.11 218.06 1093.36C219.27 1093.6 220.36 1094.16 221.69 1094.32C223.03 1094.49 224.76 1094.65 226.05 1094.32C227.34 1094 228.23 1093.32 229.44 1092.39C230.65 1091.46 232.11 1090.09 233.32 1088.76C234.53 1087.42 235.62 1086.41 236.71 1084.4C237.8 1082.38 238.81 1079.55 239.85 1076.65C240.9 1073.74 241.99 1069.79 243 1066.96C244.01 1064.14 244.94 1061.92 245.91 1059.7C246.88 1057.48 247.8 1055.87 248.81 1053.65C249.82 1051.43 250.91 1048.92 251.96 1046.38C253.01 1043.84 254.1 1040.29 255.11 1038.39C256.12 1036.5 257.05 1035.89 258.01 1035C258.98 1034.11 259.91 1034.2 260.92 1033.07C261.93 1031.94 263.02 1030.44 264.07 1028.22C265.12 1026 266.21 1022.57 267.22 1019.75C268.22 1016.92 269.15 1014.3 270.12 1011.27C271.09 1008.25 272.1 1004.62 273.03 1001.59C273.95 998.56 274.84 995.21 275.69 993.11C276.54 991.02 277.1 989.93 278.11 989C279.12 988.07 280.65 988.35 281.74 987.54C282.83 986.74 283.56 985.85 284.65 984.15C285.74 982.46 287.07 979.51 288.28 977.38C289.49 975.24 290.7 973.14 291.91 971.32C293.12 969.51 294.13 968.01 295.54 966.48C296.96 964.95 298.77 963.65 300.39 962.12C302 960.59 303.9 959.38 305.23 957.28C306.56 955.18 307.45 952.44 308.38 949.53C309.31 946.62 309.99 942.79 310.8 939.85C311.61 936.9 312.33 933.75 313.22 931.85C314.11 929.96 315.04 928.95 316.13 928.46C317.22 927.98 318.35 928.99 319.76 928.95C321.17 928.91 322.99 928.18 324.6 928.22C326.21 928.26 328.03 928.99 329.44 929.19C330.86 929.39 331.86 928.99 333.08 929.43C334.29 929.88 335.62 930.85 336.71 931.85C337.8 932.86 338.6 934.03 339.61 935.49C340.62 936.94 342.24 939.72 342.76 940.57" stroke="#0000ff"/>
</g>
<g stroke="#0c0a0a" stroke-width="1.3" fill="none">
<path d="M123.9 959.9H128.5M123.9 1048.1H128.5M123.9 1136.3H128.5M123.9 1004.1H128.5M123.9 1092.1H128.5M128.5 1146.1V1150.5M212.86 1146.1V1150.5M297.22 1146.1V1150.5M170.68 1146.1V1150.5M255.04 1146.1V1150.5M339.4 1146.1V1150.5"/>
<rect x="128.5" y="917.8" width="210.9" height="228.3" stroke-width="1.4"/>
</g>
<clipPath id="c42"><rect x="410.5" y="917.8" width="210.8" height="228.3"/></clipPath>
<g clip-path="url(#c42)" fill="none" stroke-width="2.4" stroke-linejoin="round" stroke-linecap="butt">
<path d="M409.1 1136.04C409.61 1136.03 411.12 1136.02 412.14 1136.02C413.15 1136.02 414.16 1136.02 415.17 1136.03C416.18 1136.03 417.2 1136.04 418.21 1136.04C419.22 1136.05 420.23 1136.06 421.24 1136.06C422.25 1136.07 423.27 1136.07 424.28 1136.07C425.29 1136.08 426.3 1136.08 427.31 1136.07C428.33 1136.07 429.34 1136.06 430.35 1136.04C431.36 1136.03 432.37 1136.01 433.39 1135.99C434.4 1135.96 435.41 1135.93 436.42 1135.89C437.43 1135.85 438.45 1135.8 439.46 1135.75C440.47 1135.69 441.48 1135.63 442.49 1135.56C443.5 1135.48 444.52 1135.4 445.53 1135.3C446.54 1135.21 447.55 1135.11 448.56 1134.99C449.58 1134.87 450.59 1134.74 451.6 1134.6C452.61 1134.46 453.62 1134.3 454.64 1134.14C455.65 1133.97 456.66 1133.79 457.67 1133.59C458.68 1133.39 459.7 1133.18 460.71 1132.96C461.72 1132.73 462.73 1132.49 463.74 1132.23C464.75 1131.97 465.77 1131.7 466.78 1131.41C467.79 1131.12 468.8 1130.81 469.81 1130.48C470.83 1130.16 471.84 1129.82 472.85 1129.46C473.86 1129.09 474.87 1128.72 475.89 1128.32C476.9 1127.92 477.91 1127.5 478.92 1127.06C479.93 1126.63 480.95 1126.17 481.96 1125.7C482.97 1125.22 483.98 1124.72 484.99 1124.21C486 1123.69 487.02 1123.15 488.03 1122.6C489.04 1122.04 490.05 1121.46 491.06 1120.86C492.08 1120.26 493.09 1119.64 494.1 1119C495.11 1118.35 496.12 1117.69 497.14 1117C498.15 1116.32 499.16 1115.61 500.17 1114.88C501.18 1114.15 502.2 1113.39 503.21 1112.62C504.22 1111.84 505.23 1111.04 506.24 1110.22C507.25 1109.4 508.27 1108.56 509.28 1107.69C510.29 1106.83 511.3 1105.94 512.31 1105.03C513.33 1104.11 514.34 1103.18 515.35 1102.22C516.36 1101.26 517.37 1100.28 518.39 1099.28C519.4 1098.27 520.41 1097.24 521.42 1096.19C522.43 1095.14 523.45 1094.07 524.46 1092.97C525.47 1091.88 526.48 1090.76 527.49 1089.61C528.5 1088.47 529.52 1087.3 530.53 1086.11C531.54 1084.93 532.55 1083.71 533.56 1082.48C534.58 1081.25 535.59 1079.99 536.6 1078.71C537.61 1077.43 538.62 1076.13 539.64 1074.8C540.65 1073.48 541.66 1072.13 542.67 1070.76C543.68 1069.39 544.7 1068 545.71 1066.59C546.72 1065.18 547.73 1063.74 548.74 1062.29C549.75 1060.83 550.77 1059.36 551.78 1057.86C552.79 1056.36 553.8 1054.84 554.81 1053.3C555.83 1051.77 556.84 1050.21 557.85 1048.63C558.86 1047.05 559.87 1045.45 560.89 1043.83C561.9 1042.21 562.91 1040.57 563.92 1038.92C564.93 1037.26 565.95 1035.58 566.96 1033.89C567.97 1032.2 568.98 1030.48 569.99 1028.75C571 1027.02 572.02 1025.28 573.03 1023.51C574.04 1021.75 575.05 1019.96 576.06 1018.17C577.08 1016.37 578.09 1014.56 579.1 1012.73C580.11 1010.9 581.12 1009.05 582.14 1007.2C583.15 1005.34 584.16 1003.46 585.17 1001.58C586.18 999.69 587.2 997.79 588.21 995.88C589.22 993.96 590.23 992.04 591.24 990.1C592.25 988.16 593.27 986.21 594.28 984.25C595.29 982.29 596.3 980.32 597.31 978.34C598.33 976.36 599.34 974.37 600.35 972.37C601.36 970.37 602.37 968.37 603.39 966.35C604.4 964.34 605.41 962.31 606.42 960.29C607.43 958.26 608.45 956.22 609.46 954.18C610.47 952.15 611.48 950.1 612.49 948.05C613.5 946.01 614.52 943.95 615.53 941.9C616.54 939.85 617.55 937.79 618.56 935.73C619.58 933.68 621.09 930.59 621.6 929.56" stroke="#ff0000"/>
<path d="M409.5 1136.34C410.01 1136.33 411.52 1136.32 412.54 1136.32C413.55 1136.32 414.56 1136.32 415.57 1136.33C416.58 1136.33 417.6 1136.34 418.61 1136.34C419.62 1136.35 420.63 1136.36 421.64 1136.36C422.65 1136.37 423.67 1136.37 424.68 1136.37C425.69 1136.38 426.7 1136.38 427.71 1136.37C428.73 1136.37 429.74 1136.36 430.75 1136.34C431.76 1136.33 432.77 1136.31 433.79 1136.29C434.8 1136.26 435.81 1136.23 436.82 1136.19C437.83 1136.15 438.85 1136.1 439.86 1136.05C440.87 1135.99 441.88 1135.93 442.89 1135.86C443.9 1135.78 444.92 1135.7 445.93 1135.6C446.94 1135.51 447.95 1135.41 448.96 1135.29C449.98 1135.17 450.99 1135.04 452 1134.9C453.01 1134.76 454.02 1134.6 455.04 1134.44C456.05 1134.27 457.06 1134.09 458.07 1133.89C459.08 1133.69 460.1 1133.48 461.11 1133.26C462.12 1133.03 463.13 1132.79 464.14 1132.53C465.15 1132.27 466.17 1132 467.18 1131.71C468.19 1131.42 469.2 1131.11 470.21 1130.78C471.23 1130.46 472.24 1130.12 473.25 1129.76C474.26 1129.39 475.27 1129.02 476.29 1128.62C477.3 1128.22 478.31 1127.8 479.32 1127.36C480.33 1126.93 481.35 1126.47 482.36 1126C483.37 1125.52 484.38 1125.02 485.39 1124.51C486.4 1123.99 487.42 1123.45 488.43 1122.9C489.44 1122.34 490.45 1121.76 491.46 1121.16C492.48 1120.56 493.49 1119.94 494.5 1119.3C495.51 1118.65 496.52 1117.99 497.54 1117.3C498.55 1116.62 499.56 1115.91 500.57 1115.18C501.58 1114.45 502.6 1113.69 503.61 1112.92C504.62 1112.14 505.63 1111.34 506.64 1110.52C507.65 1109.7 508.67 1108.86 509.68 1107.99C510.69 1107.13 511.7 1106.24 512.71 1105.33C513.73 1104.41 514.74 1103.48 515.75 1102.52C516.76 1101.56 517.77 1100.58 518.79 1099.58C519.8 1098.57 520.81 1097.54 521.82 1096.49C522.83 1095.44 523.85 1094.37 524.86 1093.27C525.87 1092.18 526.88 1091.06 527.89 1089.91C528.9 1088.77 529.92 1087.6 530.93 1086.41C531.94 1085.23 532.95 1084.01 533.96 1082.78C534.98 1081.55 535.99 1080.29 537 1079.01C538.01 1077.73 539.02 1076.43 540.04 1075.1C541.05 1073.78 542.06 1072.43 543.07 1071.06C544.08 1069.69 545.1 1068.3 546.11 1066.89C547.12 1065.48 548.13 1064.04 549.14 1062.59C550.15 1061.13 551.17 1059.66 552.18 1058.16C553.19 1056.66 554.2 1055.14 555.21 1053.6C556.23 1052.07 557.24 1050.51 558.25 1048.93C559.26 1047.35 560.27 1045.75 561.29 1044.13C562.3 1042.51 563.31 1040.87 564.32 1039.22C565.33 1037.56 566.35 1035.88 567.36 1034.19C568.37 1032.5 569.38 1030.78 570.39 1029.05C571.4 1027.32 572.42 1025.58 573.43 1023.81C574.44 1022.05 575.45 1020.26 576.46 1018.47C577.48 1016.67 578.49 1014.86 579.5 1013.03C580.51 1011.2 581.52 1009.35 582.54 1007.5C583.55 1005.64 584.56 1003.76 585.57 1001.88C586.58 999.99 587.6 998.09 588.61 996.18C589.62 994.26 590.63 992.34 591.64 990.4C592.65 988.46 593.67 986.51 594.68 984.55C595.69 982.59 596.7 980.62 597.71 978.64C598.73 976.66 599.74 974.67 600.75 972.67C601.76 970.67 602.77 968.67 603.79 966.65C604.8 964.64 605.81 962.61 606.82 960.59C607.83 958.56 608.85 956.52 609.86 954.48C610.87 952.45 611.88 950.4 612.89 948.35C613.9 946.31 614.92 944.25 615.93 942.2C616.94 940.15 617.95 938.09 618.96 936.03C619.98 933.98 621.49 930.89 622 929.86" stroke="#0000ff"/>
</g>
<g stroke="#0c0a0a" stroke-width="1.3" fill="none">
<path d="M405.9 999.2H410.5M405.9 1136.3H410.5M405.9 931H410.5M405.9 965.1H410.5M405.9 1033.5H410.5M405.9 1067.7H410.5M405.9 1101.8H410.5M433.92 1146.1V1150.5M527.61 1146.1V1150.5M621.3 1146.1V1150.5M480.77 1146.1V1150.5M574.46 1146.1V1150.5"/>
<rect x="410.5" y="917.8" width="210.8" height="228.3" stroke-width="1.4"/>
</g>
<clipPath id="c43"><rect x="693" y="917.8" width="210.8" height="228.3"/></clipPath>
<g clip-path="url(#c43)" fill="none" stroke-width="2.4" stroke-linejoin="round" stroke-linecap="butt">
<path d="M692.99 1027.44C694.16 1027.44 697.67 1027.44 700.01 1027.44C702.35 1027.44 704.69 1027.44 707.03 1027.44C709.37 1027.44 712.08 1027.42 714.06 1027.44C716.03 1027.46 717.61 1027.44 718.9 1027.56C720.19 1027.68 720.92 1027.62 721.8 1028.16C722.69 1028.71 723.46 1029.54 724.23 1030.83C724.99 1032.12 725.64 1034.58 726.4 1035.91C727.17 1037.24 728.14 1038.7 728.83 1038.82C729.51 1038.94 729.96 1038.37 730.52 1036.64C731.09 1034.9 731.69 1031.07 732.22 1028.41C732.74 1025.74 733.28 1023.16 733.67 1020.66C734.06 1018.16 734.26 1015.82 734.56 1013.39C734.85 1010.97 735.15 1008.55 735.44 1006.13C735.74 1003.71 735.92 1001.59 736.33 998.87C736.74 996.14 737.38 992.81 737.91 989.79C738.43 986.76 738.69 984.04 739.48 980.71C740.27 977.38 741.62 972.23 742.63 969.81C743.64 967.39 744.64 966.18 745.53 966.18C746.42 966.18 747.35 968 747.95 969.81C748.56 971.63 748.76 974.65 749.16 977.08C749.57 979.5 750.04 981.92 750.38 984.34C750.71 986.76 750.91 989.18 751.18 991.6C751.45 994.02 751.72 996.45 751.99 998.87C752.26 1001.29 752.46 1003.41 752.8 1006.13C753.13 1008.85 753.6 1012.18 754.01 1015.21C754.41 1018.24 754.69 1021.69 755.22 1024.29C755.74 1026.89 756.51 1030.63 757.15 1030.83C757.8 1031.03 758.61 1027.8 759.09 1025.5C759.58 1023.2 759.74 1019.85 760.06 1017.03C760.38 1014.2 760.59 1011.98 761.03 1008.55C761.47 1005.12 762.16 998.95 762.72 996.45C763.29 993.94 763.85 993.34 764.42 993.54C764.98 993.74 765.63 995.46 766.11 997.66C766.6 999.86 766.92 1003.71 767.32 1006.74C767.73 1009.76 768.2 1012.99 768.54 1015.82C768.87 1018.64 769.06 1021.06 769.32 1023.69C769.58 1026.31 769.85 1028.93 770.11 1031.55C770.37 1034.18 770.63 1036.8 770.9 1039.42C771.16 1042.05 771.45 1044.69 771.68 1047.29C771.91 1049.9 772.07 1052.46 772.26 1055.04C772.46 1057.62 772.65 1060.21 772.85 1062.79C773.04 1065.37 773.23 1067.96 773.43 1070.54C773.62 1073.12 773.81 1075.7 774.01 1078.29C774.2 1080.87 774.39 1083.43 774.59 1086.03C774.79 1088.64 774.99 1091.28 775.19 1093.9C775.4 1096.53 775.6 1099.15 775.8 1101.77C776 1104.4 776.2 1107.02 776.4 1109.64C776.61 1112.26 776.59 1113.98 777.01 1117.51C777.43 1121.04 778.34 1128.81 778.95 1130.83C779.55 1132.85 780.22 1131.03 780.64 1129.62C781.07 1128.21 781.21 1124.78 781.49 1122.35C781.77 1119.93 782.11 1117.71 782.34 1115.09C782.56 1112.47 782.66 1109.44 782.82 1106.62C782.98 1103.79 783.14 1100.97 783.31 1098.14C783.47 1095.32 783.63 1092.49 783.79 1089.67C783.95 1086.84 784.1 1083.95 784.27 1081.19C784.45 1078.43 784.65 1075.81 784.84 1073.12C785.03 1070.43 785.22 1067.74 785.4 1065.05C785.59 1062.36 785.59 1059.33 785.97 1056.98C786.35 1054.62 787.06 1051.33 787.66 1050.93C788.27 1050.52 788.95 1052.82 789.6 1054.56C790.25 1056.29 790.93 1059.92 791.54 1061.34C792.14 1062.75 792.63 1063.35 793.23 1063.03C793.84 1062.71 794.52 1061.42 795.17 1059.4C795.82 1057.38 796.42 1052.94 797.11 1050.93C797.79 1048.91 798.6 1047.09 799.29 1047.29C799.97 1047.49 800.74 1049.71 801.22 1052.14C801.71 1054.56 801.87 1058.59 802.19 1061.82C802.51 1065.05 802.91 1068.68 803.16 1071.51C803.41 1074.33 803.52 1076.35 803.7 1078.77C803.89 1081.19 804.07 1083.61 804.25 1086.03C804.43 1088.46 804.61 1090.88 804.79 1093.3C804.98 1095.72 805.14 1098.14 805.34 1100.56C805.54 1102.98 805.77 1105.4 805.98 1107.83C806.2 1110.25 806.42 1112.67 806.63 1115.09C806.85 1117.51 806.85 1119.73 807.28 1122.35C807.71 1124.98 808.61 1130.02 809.21 1130.83C809.82 1131.64 810.42 1129.42 810.91 1127.2C811.39 1124.98 811.72 1120.74 812.12 1117.51C812.52 1114.28 812.97 1110.92 813.33 1107.83C813.69 1104.73 813.97 1101.91 814.3 1098.95C814.62 1095.99 814.94 1093.03 815.27 1090.07C815.59 1087.11 815.93 1084.15 816.23 1081.19C816.54 1078.23 816.83 1075.27 817.12 1072.31C817.42 1069.35 817.71 1066.39 818.01 1063.44C818.31 1060.48 818.55 1057.55 818.9 1054.56C819.25 1051.56 819.71 1048.5 820.11 1045.48C820.51 1042.45 820.71 1038.92 821.32 1036.4C821.92 1033.88 822.93 1031.15 823.74 1030.34C824.55 1029.54 825.27 1029.94 826.16 1031.55C827.05 1033.17 828.34 1037 829.07 1040.03C829.79 1043.06 830.04 1046.49 830.52 1049.71C831 1052.94 831.6 1056.57 831.97 1059.4C832.35 1062.22 832.51 1064.24 832.78 1066.66C833.05 1069.08 833.32 1071.51 833.59 1073.93C833.86 1076.35 833.86 1078.16 834.39 1081.19C834.93 1084.22 836.01 1091.28 836.82 1092.09C837.62 1092.89 838.63 1088.46 839.24 1086.03C839.84 1083.61 840.04 1080.38 840.45 1077.56C840.85 1074.73 841.05 1072.19 841.66 1069.08C842.26 1065.98 843.35 1060.85 844.08 1058.92C844.81 1056.98 845.29 1056.98 846.02 1057.46C846.74 1057.95 847.77 1059.68 848.44 1061.82C849.1 1063.96 849.49 1067.47 850.01 1070.3C850.54 1073.12 851.16 1076.15 851.59 1078.77C852.01 1081.39 852.23 1083.61 852.55 1086.03C852.88 1088.46 853.2 1090.88 853.52 1093.3C853.85 1095.72 854.09 1097.74 854.49 1100.56C854.9 1103.39 855.46 1107.02 855.94 1110.25C856.43 1113.48 856.75 1116.3 857.4 1119.93C858.04 1123.56 859.01 1129.54 859.82 1132.04C860.63 1134.54 861.43 1135.35 862.24 1134.94C863.05 1134.54 864.06 1132.12 864.66 1129.62C865.27 1127.12 865.47 1123.16 865.87 1119.93C866.28 1116.7 866.75 1113.21 867.08 1110.25C867.42 1107.29 867.62 1104.87 867.89 1102.18C868.16 1099.49 868.43 1096.8 868.7 1094.11C868.97 1091.41 869.05 1088.99 869.5 1086.03C869.96 1083.07 870.79 1077.16 871.44 1076.35C872.09 1075.54 872.87 1078.77 873.38 1081.19C873.88 1083.61 874.1 1087.65 874.47 1090.88C874.83 1094.11 875.21 1097.74 875.56 1100.56C875.9 1103.39 876.2 1105.4 876.53 1107.83C876.85 1110.25 877.13 1113.39 877.49 1115.09C877.86 1116.78 878.18 1118.4 878.7 1118C879.23 1117.59 880.14 1114.97 880.64 1112.67C881.15 1110.37 881.37 1107.02 881.73 1104.19C882.09 1101.37 882.44 1098.34 882.82 1095.72C883.2 1093.1 883.63 1090.88 884.03 1088.46C884.44 1086.03 884.6 1084.42 885.24 1081.19C885.89 1077.96 887.33 1072.58 887.91 1069.08C888.48 1065.59 888.44 1063.17 888.71 1060.21C888.98 1057.25 889.25 1054.29 889.52 1051.33C889.79 1048.37 890.09 1045.34 890.33 1042.45C890.56 1039.56 890.73 1036.8 890.93 1033.98C891.13 1031.15 891.34 1028.33 891.54 1025.5C891.74 1022.68 891.94 1019.85 892.14 1017.03C892.34 1014.2 892.55 1011.38 892.75 1008.55C892.95 1005.73 893.15 1002.9 893.35 1000.08C893.56 997.25 893.76 994.43 893.96 991.6C894.16 988.78 894.36 985.95 894.56 983.13C894.77 980.3 894.93 977.55 895.17 974.65C895.4 971.76 895.71 968.74 895.98 965.78C896.25 962.82 896.51 959.86 896.78 956.9C897.05 953.94 897.25 950.81 897.59 948.02C897.93 945.23 898.4 942.77 898.8 940.15C899.21 937.53 899.49 934.2 900.01 932.28C900.54 930.36 901.26 929.05 901.95 928.65C902.64 928.25 903.36 929.05 904.13 929.86C904.9 930.67 906.15 932.89 906.55 933.49" stroke="#ff0000"/>
<path d="M692.99 1027.74C694.16 1027.74 697.67 1027.74 700.01 1027.74C702.35 1027.74 704.69 1027.74 707.03 1027.74C709.37 1027.74 712.08 1027.72 714.06 1027.74C716.03 1027.76 717.61 1027.74 718.9 1027.86C720.19 1027.98 720.92 1027.92 721.8 1028.46C722.69 1029.01 723.46 1029.84 724.23 1031.13C724.99 1032.42 725.64 1034.88 726.4 1036.21C727.17 1037.54 728.14 1039 728.83 1039.12C729.51 1039.24 729.96 1038.67 730.52 1036.94C731.09 1035.2 731.69 1031.37 732.22 1028.71C732.74 1026.04 733.28 1023.46 733.67 1020.96C734.06 1018.46 734.26 1016.12 734.56 1013.69C734.85 1011.27 735.15 1008.85 735.44 1006.43C735.74 1004.01 735.92 1001.89 736.33 999.17C736.74 996.44 737.38 993.11 737.91 990.09C738.43 987.06 738.69 984.34 739.48 981.01C740.27 977.68 741.62 972.53 742.63 970.11C743.64 967.69 744.64 966.48 745.53 966.48C746.42 966.48 747.35 968.3 747.95 970.11C748.56 971.93 748.76 974.95 749.16 977.38C749.57 979.8 750.04 982.22 750.38 984.64C750.71 987.06 750.91 989.48 751.18 991.9C751.45 994.32 751.72 996.75 751.99 999.17C752.26 1001.59 752.46 1003.71 752.8 1006.43C753.13 1009.15 753.6 1012.48 754.01 1015.51C754.41 1018.54 754.69 1021.99 755.22 1024.59C755.74 1027.19 756.51 1030.93 757.15 1031.13C757.8 1031.33 758.61 1028.1 759.09 1025.8C759.58 1023.5 759.74 1020.15 760.06 1017.33C760.38 1014.5 760.59 1012.28 761.03 1008.85C761.47 1005.42 762.16 999.25 762.72 996.75C763.29 994.24 763.85 993.64 764.42 993.84C764.98 994.04 765.63 995.76 766.11 997.96C766.6 1000.16 766.92 1004.01 767.32 1007.04C767.73 1010.06 768.2 1013.29 768.54 1016.12C768.87 1018.94 769.06 1021.36 769.32 1023.99C769.58 1026.61 769.85 1029.23 770.11 1031.85C770.37 1034.48 770.63 1037.1 770.9 1039.72C771.16 1042.35 771.45 1044.99 771.68 1047.59C771.91 1050.2 772.07 1052.76 772.26 1055.34C772.46 1057.92 772.65 1060.51 772.85 1063.09C773.04 1065.67 773.23 1068.26 773.43 1070.84C773.62 1073.42 773.81 1076 774.01 1078.59C774.2 1081.17 774.39 1083.73 774.59 1086.33C774.79 1088.94 774.99 1091.58 775.19 1094.2C775.4 1096.83 775.6 1099.45 775.8 1102.07C776 1104.7 776.2 1107.32 776.4 1109.94C776.61 1112.56 776.59 1114.28 777.01 1117.81C777.43 1121.34 778.34 1129.11 778.95 1131.13C779.55 1133.15 780.22 1131.33 780.64 1129.92C781.07 1128.51 781.21 1125.08 781.49 1122.65C781.77 1120.23 782.11 1118.01 782.34 1115.39C782.56 1112.77 782.66 1109.74 782.82 1106.92C782.98 1104.09 783.14 1101.27 783.31 1098.44C783.47 1095.62 783.63 1092.79 783.79 1089.97C783.95 1087.14 784.1 1084.25 784.27 1081.49C784.45 1078.73 784.65 1076.11 784.84 1073.42C785.03 1070.73 785.22 1068.04 785.4 1065.35C785.59 1062.66 785.59 1059.63 785.97 1057.28C786.35 1054.92 787.06 1051.63 787.66 1051.23C788.27 1050.82 788.95 1053.12 789.6 1054.86C790.25 1056.59 790.93 1060.22 791.54 1061.64C792.14 1063.05 792.63 1063.65 793.23 1063.33C793.84 1063.01 794.52 1061.72 795.17 1059.7C795.82 1057.68 796.42 1053.24 797.11 1051.23C797.79 1049.21 798.6 1047.39 799.29 1047.59C799.97 1047.79 800.74 1050.01 801.22 1052.44C801.71 1054.86 801.87 1058.89 802.19 1062.12C802.51 1065.35 802.91 1068.98 803.16 1071.81C803.41 1074.63 803.52 1076.65 803.7 1079.07C803.89 1081.49 804.07 1083.91 804.25 1086.33C804.43 1088.76 804.61 1091.18 804.79 1093.6C804.98 1096.02 805.14 1098.44 805.34 1100.86C805.54 1103.28 805.77 1105.7 805.98 1108.13C806.2 1110.55 806.42 1112.97 806.63 1115.39C806.85 1117.81 806.85 1120.03 807.28 1122.65C807.71 1125.28 808.61 1130.32 809.21 1131.13C809.82 1131.94 810.42 1129.72 810.91 1127.5C811.39 1125.28 811.72 1121.04 812.12 1117.81C812.52 1114.58 812.97 1111.22 813.33 1108.13C813.69 1105.03 813.97 1102.21 814.3 1099.25C814.62 1096.29 814.94 1093.33 815.27 1090.37C815.59 1087.41 815.93 1084.45 816.23 1081.49C816.54 1078.53 816.83 1075.57 817.12 1072.61C817.42 1069.65 817.71 1066.69 818.01 1063.74C818.31 1060.78 818.55 1057.85 818.9 1054.86C819.25 1051.86 819.71 1048.8 820.11 1045.78C820.51 1042.75 820.71 1039.22 821.32 1036.7C821.92 1034.18 822.93 1031.45 823.74 1030.64C824.55 1029.84 825.27 1030.24 826.16 1031.85C827.05 1033.47 828.34 1037.3 829.07 1040.33C829.79 1043.36 830.04 1046.79 830.52 1050.01C831 1053.24 831.6 1056.87 831.97 1059.7C832.35 1062.52 832.51 1064.54 832.78 1066.96C833.05 1069.38 833.32 1071.81 833.59 1074.23C833.86 1076.65 833.86 1078.46 834.39 1081.49C834.93 1084.52 836.01 1091.58 836.82 1092.39C837.62 1093.19 838.63 1088.76 839.24 1086.33C839.84 1083.91 840.04 1080.68 840.45 1077.86C840.85 1075.03 841.05 1072.49 841.66 1069.38C842.26 1066.28 843.35 1061.15 844.08 1059.22C844.81 1057.28 845.29 1057.28 846.02 1057.76C846.74 1058.25 847.77 1059.98 848.44 1062.12C849.1 1064.26 849.49 1067.77 850.01 1070.6C850.54 1073.42 851.16 1076.45 851.59 1079.07C852.01 1081.69 852.23 1083.91 852.55 1086.33C852.88 1088.76 853.2 1091.18 853.52 1093.6C853.85 1096.02 854.09 1098.04 854.49 1100.86C854.9 1103.69 855.46 1107.32 855.94 1110.55C856.43 1113.78 856.75 1116.6 857.4 1120.23C858.04 1123.86 859.01 1129.84 859.82 1132.34C860.63 1134.84 861.43 1135.65 862.24 1135.24C863.05 1134.84 864.06 1132.42 864.66 1129.92C865.27 1127.42 865.47 1123.46 865.87 1120.23C866.28 1117 866.75 1113.51 867.08 1110.55C867.42 1107.59 867.62 1105.17 867.89 1102.48C868.16 1099.79 868.43 1097.1 868.7 1094.41C868.97 1091.71 869.05 1089.29 869.5 1086.33C869.96 1083.37 870.79 1077.46 871.44 1076.65C872.09 1075.84 872.87 1079.07 873.38 1081.49C873.88 1083.91 874.1 1087.95 874.47 1091.18C874.83 1094.41 875.21 1098.04 875.56 1100.86C875.9 1103.69 876.2 1105.7 876.53 1108.13C876.85 1110.55 877.13 1113.69 877.49 1115.39C877.86 1117.08 878.18 1118.7 878.7 1118.3C879.23 1117.89 880.14 1115.27 880.64 1112.97C881.15 1110.67 881.37 1107.32 881.73 1104.49C882.09 1101.67 882.44 1098.64 882.82 1096.02C883.2 1093.4 883.63 1091.18 884.03 1088.76C884.44 1086.33 884.6 1084.72 885.24 1081.49C885.89 1078.26 887.33 1072.88 887.91 1069.38C888.48 1065.89 888.44 1063.47 888.71 1060.51C888.98 1057.55 889.25 1054.59 889.52 1051.63C889.79 1048.67 890.09 1045.64 890.33 1042.75C890.56 1039.86 890.73 1037.1 890.93 1034.28C891.13 1031.45 891.34 1028.63 891.54 1025.8C891.74 1022.98 891.94 1020.15 892.14 1017.33C892.34 1014.5 892.55 1011.68 892.75 1008.85C892.95 1006.03 893.15 1003.2 893.35 1000.38C893.56 997.55 893.76 994.73 893.96 991.9C894.16 989.08 894.36 986.25 894.56 983.43C894.77 980.6 894.93 977.85 895.17 974.95C895.4 972.06 895.71 969.04 895.98 966.08C896.25 963.12 896.51 960.16 896.78 957.2C897.05 954.24 897.25 951.11 897.59 948.32C897.93 945.53 898.4 943.07 898.8 940.45C899.21 937.83 899.49 934.5 900.01 932.58C900.54 930.66 901.26 929.35 901.95 928.95C902.64 928.55 903.36 929.35 904.13 930.16C904.9 930.97 906.15 933.19 906.55 933.79" stroke="#0000ff"/>
</g>
<g stroke="#0c0a0a" stroke-width="1.3" fill="none">
<path d="M688.4 920.6H693M688.4 1027.7H693M688.4 1134.4H693M688.4 974.2H693M688.4 1081H693M693 1146.1V1150.5M777.32 1146.1V1150.5M861.64 1146.1V1150.5M735.16 1146.1V1150.5M819.48 1146.1V1150.5M903.8 1146.1V1150.5"/>
<rect x="693" y="917.8" width="210.8" height="228.3" stroke-width="1.4"/>
</g>
<text transform="translate(100.57 144.21) scale(1 1.04)" style="font-size:33px">8</text>
<text transform="translate(100.11 224.81) scale(1 1.04)" style="font-size:33px">4</text>
<text transform="translate(100.41 309.51) scale(1 1.04)" style="font-size:33px">0</text>
<text transform="translate(118.72 342.1) scale(1 1.04)" style="font-size:33px">0</text>
<text transform="translate(203.08 342.1) scale(1 1.04)" style="font-size:33px">1</text>
<text transform="translate(287.44 342.1) scale(1 1.04)" style="font-size:33px">2</text>
<text transform="translate(349.48 132.56) scale(1 1.04)" style="font-size:33px">323</text>
<text transform="translate(349.64 216.51) scale(1 1.04)" style="font-size:33px">321</text>
<text transform="translate(349.61 304.11) scale(1 1.04)" style="font-size:33px">319</text>
<text transform="translate(401.89 342.1) scale(1 1.04)" style="font-size:33px">200</text>
<text transform="translate(500.68 342.1) scale(1 1.04)" style="font-size:33px">600</text>
<text transform="translate(587.49 342.1) scale(1 1.04)" style="font-size:33px">1000</text>
<text transform="translate(664.64 120.91) scale(1 1.04)" style="font-size:33px">1</text>
<text transform="translate(664.61 205.61) scale(1 1.04)" style="font-size:33px">0</text>
<text transform="translate(653.65 292.41) scale(1 1.04)" style="font-size:33px">-1</text>
<text transform="translate(686.42 342.1) scale(1 1.04)" style="font-size:33px">0</text>
<text transform="translate(770.74 342.1) scale(1 1.04)" style="font-size:33px">1</text>
<text transform="translate(855.06 342.1) scale(1 1.04)" style="font-size:33px">2</text>
<text transform="translate(100.8 436.38) scale(1 1.04)" style="font-size:33px">2</text>
<text transform="translate(100.41 589.71) scale(1 1.04)" style="font-size:33px">0</text>
<text transform="translate(100.54 514.71) scale(1 1.04)" style="font-size:33px">1</text>
<text transform="translate(119.32 621.5) scale(1 1.04)" style="font-size:33px">0</text>
<text transform="translate(203.68 621.5) scale(1 1.04)" style="font-size:33px">1</text>
<text transform="translate(288.04 621.5) scale(1 1.04)" style="font-size:33px">2</text>
<text transform="translate(357.05 402.31) scale(1 1.04)" style="font-size:33px">0.6</text>
<text transform="translate(357.05 497.61) scale(1 1.04)" style="font-size:33px">0.3</text>
<text transform="translate(356.88 594.41) scale(1 1.04)" style="font-size:33px">0.0</text>
<text transform="translate(402.99 621.5) scale(1 1.04)" style="font-size:33px">200</text>
<text transform="translate(502.68 621.5) scale(1 1.04)" style="font-size:33px">600</text>
<text transform="translate(587.59 621.5) scale(1 1.04)" style="font-size:33px">1000</text>
<text transform="translate(664.11 383.01) scale(1 1.04)" style="font-size:33px">0</text>
<text transform="translate(653.28 480.71) scale(1 1.04)" style="font-size:33px">-6</text>
<text transform="translate(635.17 577.58) scale(1 1.04)" style="font-size:33px">-12</text>
<text transform="translate(687.32 621.5) scale(1 1.04)" style="font-size:33px">0</text>
<text transform="translate(771.64 621.5) scale(1 1.04)" style="font-size:33px">1</text>
<text transform="translate(856.16 621.5) scale(1 1.04)" style="font-size:33px">2</text>
<text transform="translate(100.57 679.31) scale(1 1.04)" style="font-size:33px">6</text>
<text transform="translate(100.57 769.01) scale(1 1.04)" style="font-size:33px">3</text>
<text transform="translate(100.41 866.51) scale(1 1.04)" style="font-size:33px">0</text>
<text transform="translate(119.32 900.6) scale(1 1.04)" style="font-size:33px">0</text>
<text transform="translate(203.68 900.6) scale(1 1.04)" style="font-size:33px">1</text>
<text transform="translate(288.04 900.6) scale(1 1.04)" style="font-size:33px">2</text>
<text transform="translate(366.22 664.51) scale(1 1.04)" style="font-size:33px">58</text>
<text transform="translate(366.45 724.53) scale(1 1.04)" style="font-size:33px">57</text>
<text transform="translate(366.22 791.01) scale(1 1.04)" style="font-size:33px">56</text>
<text transform="translate(366.16 847.73) scale(1 1.04)" style="font-size:33px">55</text>
<text transform="translate(402.99 900.6) scale(1 1.04)" style="font-size:33px">200</text>
<text transform="translate(502.68 900.6) scale(1 1.04)" style="font-size:33px">600</text>
<text transform="translate(587.59 900.6) scale(1 1.04)" style="font-size:33px">1000</text>
<text transform="translate(645.76 706.91) scale(1 1.04)" style="font-size:33px">20</text>
<text transform="translate(645.76 763.71) scale(1 1.04)" style="font-size:33px">10</text>
<text transform="translate(664.11 824.81) scale(1 1.04)" style="font-size:33px">0</text>
<text transform="translate(634.77 874.51) scale(1 1.04)" style="font-size:33px">-10</text>
<text transform="translate(687.32 900.6) scale(1 1.04)" style="font-size:33px">0</text>
<text transform="translate(771.64 900.6) scale(1 1.04)" style="font-size:33px">1</text>
<text transform="translate(856.16 900.6) scale(1 1.04)" style="font-size:33px">2</text>
<text transform="translate(100.8 971.08) scale(1 1.04)" style="font-size:33px">2</text>
<text transform="translate(100.41 1146.71) scale(1 1.04)" style="font-size:33px">0</text>
<text transform="translate(100.54 1062.91) scale(1 1.04)" style="font-size:33px">1</text>
<text transform="translate(120.22 1180.1) scale(1 1.04)" style="font-size:33px">0</text>
<text transform="translate(204.58 1180.1) scale(1 1.04)" style="font-size:33px">1</text>
<text transform="translate(288.94 1180.1) scale(1 1.04)" style="font-size:33px">2</text>
<text transform="translate(357.48 1147.51) scale(1 1.04)" style="font-size:33px">0.0</text>
<text transform="translate(357.61 1010.41) scale(1 1.04)" style="font-size:33px">0.1</text>
<text transform="translate(402.99 1180.1) scale(1 1.04)" style="font-size:33px">200</text>
<text transform="translate(502.68 1180.1) scale(1 1.04)" style="font-size:33px">600</text>
<text transform="translate(588.09 1180.1) scale(1 1.04)" style="font-size:33px">1000</text>
<text transform="translate(664.11 1041.91) scale(1 1.04)" style="font-size:33px">0</text>
<text transform="translate(664.81 934.11) scale(1 1.04)" style="font-size:33px">4</text>
<text transform="translate(653.82 1146.81) scale(1 1.04)" style="font-size:33px">-4</text>
<text transform="translate(687.12 1180.1) scale(1 1.04)" style="font-size:33px">0</text>
<text transform="translate(771.44 1180.1) scale(1 1.04)" style="font-size:33px">1</text>
<text transform="translate(856.36 1180.1) scale(1 1.04)" style="font-size:33px">2</text>
<text transform="translate(27.13 211.7) scale(1 1.03)" style="font-size:33px">Al</text>
<text transform="translate(0.85 488.2) scale(1 1.03)" style="font-size:33px">GaAs</text>
<text transform="translate(10.59 750.6) scale(1 1.03)" style="font-size:33px">FeN</text>
<text transform="translate(-2.38 1023.7) scale(1 1.03)" style="font-size:33px">BaAs</text>
<text x="75.45" y="1034.7" style="font-size:19px">2</text>
<text x="87.14" y="23">optical conductivity</text>
<text x="367.83" y="23">electrical conductivity</text>
<text x="716.42" y="23.2">shift current</text>
<text x="137.49" y="62.9">(</text>
<text x="149.46" y="62.9">×</text>
<text transform="translate(168.9 62.9) scale(1 1.04)">10</text>
<text transform="translate(204.62 52) scale(1 1.04)" style="font-size:19.5px">5</text>
<text transform="translate(224.33 62.9) scale(1 1.04)">Ω</text>
<text transform="translate(248.64 52) scale(1 1.04)" style="font-size:19.5px">-1</text>
<text x="265.86" y="62.9">m</text>
<text transform="translate(292.74 52) scale(1 1.04)" style="font-size:19.5px">-1</text>
<text x="311.49" y="62.9">)</text>
<text x="435.19" y="62.9">(</text>
<text x="447.16" y="62.9">×</text>
<text transform="translate(466.6 62.9) scale(1 1.04)">10</text>
<text transform="translate(502.32 52) scale(1 1.04)" style="font-size:19.5px">5</text>
<text transform="translate(522.03 62.9) scale(1 1.04)">Ω</text>
<text transform="translate(546.34 52) scale(1 1.04)" style="font-size:19.5px">-1</text>
<text x="563.56" y="62.9">m</text>
<text transform="translate(590.44 52) scale(1 1.04)" style="font-size:19.5px">-1</text>
<text x="609.19" y="62.9">)</text>
<text x="749.09" y="62.8">(µA/V</text>
<text transform="translate(832.82 52.2) scale(1 1.04)" style="font-size:19.5px">2</text>
<text x="844.59" y="62.8">)</text>
<text x="83.39" y="1209.4" style="font-size:32.9px">photon energy (eV)</text>
<text x="418.11" y="1208.9" style="font-size:32.6px">temperature (K)</text>
<text x="670.69" y="1208.6" style="font-size:32.9px">photon energy (eV)</text>
</svg></body></html>
